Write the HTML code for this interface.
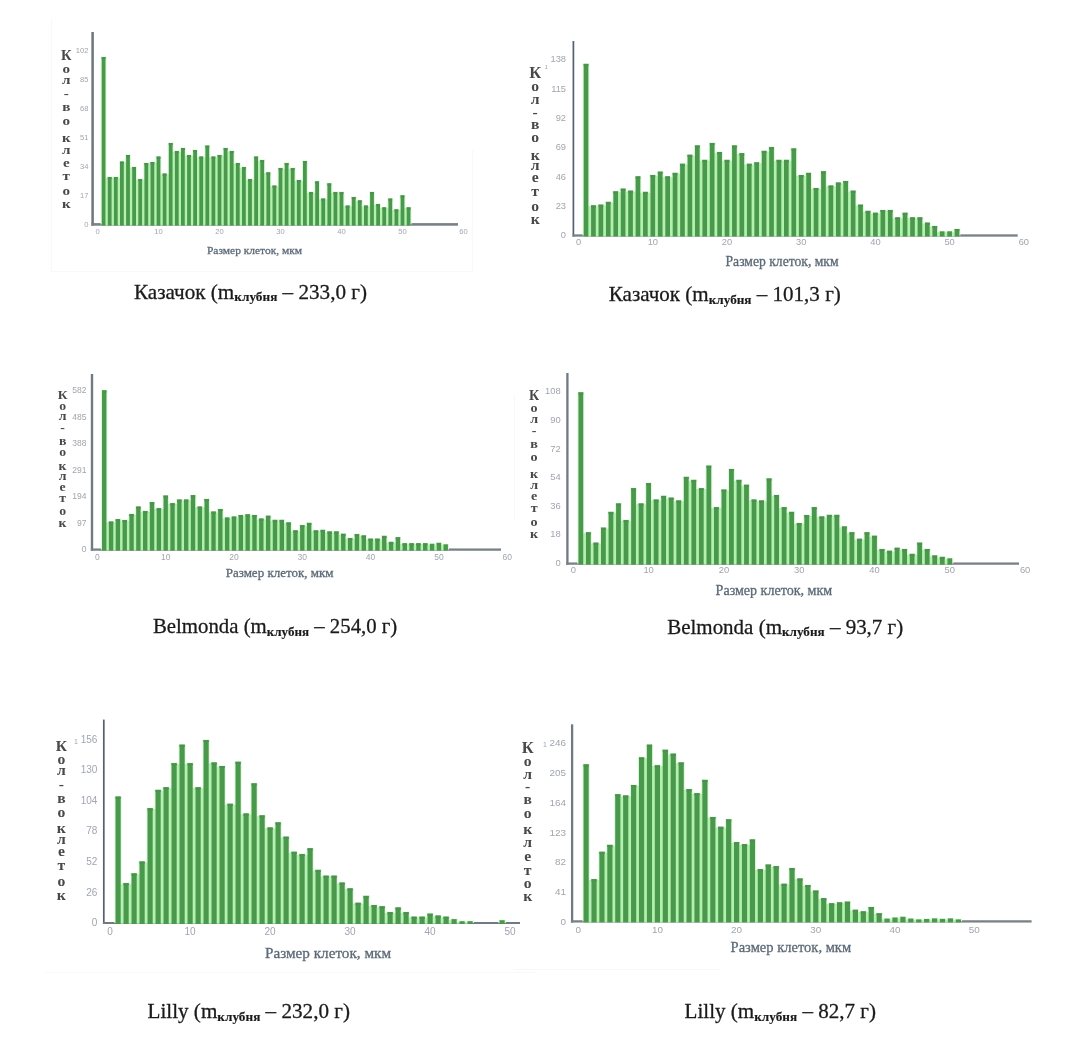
<!DOCTYPE html>
<html lang="ru"><head><meta charset="utf-8"><title>Гистограммы размеров клеток</title>
<style>
html,body{margin:0;padding:0;background:#fff;}
body{width:1078px;height:1050px;overflow:hidden;}
svg{display:block;}
.tk{font-family:"Liberation Sans",sans-serif;fill:#a0a5ae;}
.yl{font-family:"Liberation Serif",serif;font-weight:bold;fill:#484848;text-anchor:middle;}
.xt{font-family:"Liberation Serif",serif;fill:#5d6a77;stroke:#5d6a77;stroke-width:0.3px;}
.cap{font-family:"Liberation Serif",serif;font-size:21.5px;fill:#1a1a1a;stroke:#1a1a1a;stroke-width:0.3px;}
.sub{font-size:13.5px;font-weight:bold;stroke-width:0.15px;}
.g{filter:blur(0.7px);}
.t{filter:blur(0.75px);}
.c{filter:blur(0.5px);}
.yl{filter:blur(0.35px);}
</style></head><body>
<svg width="1078" height="1050" viewBox="0 0 1078 1050">
<rect x="0" y="0" width="1078" height="1050" fill="#ffffff"/>
<g fill="#f8f8f8">
<rect x="51" y="18" width="1" height="254"/><rect x="51" y="271" width="422" height="1"/><rect x="472" y="150" width="1" height="122"/>
<rect x="45" y="972" width="490" height="1"/><rect x="515" y="969" width="205" height="1"/>
<rect x="514" y="395" width="1" height="125"/>
</g>
<g class="g">
<rect x="91.35" y="32.00" width="2.50" height="193.70" fill="#6d777c"/>
<rect x="91.35" y="223.10" width="366.65" height="2.60" fill="#778186"/>
<rect x="100.60" y="56.40" width="6.00" height="168.00" fill="#dcfadb"/>
<rect x="106.70" y="176.40" width="6.00" height="48.00" fill="#dcfadb"/>
<rect x="112.80" y="176.40" width="6.00" height="48.00" fill="#dcfadb"/>
<rect x="118.90" y="161.00" width="6.00" height="63.40" fill="#dcfadb"/>
<rect x="125.00" y="154.40" width="6.00" height="70.00" fill="#dcfadb"/>
<rect x="131.10" y="166.40" width="6.00" height="58.00" fill="#dcfadb"/>
<rect x="137.20" y="178.40" width="6.00" height="46.00" fill="#dcfadb"/>
<rect x="143.30" y="162.40" width="6.00" height="62.00" fill="#dcfadb"/>
<rect x="149.40" y="161.40" width="6.00" height="63.00" fill="#dcfadb"/>
<rect x="155.50" y="156.00" width="6.00" height="68.40" fill="#dcfadb"/>
<rect x="161.60" y="173.00" width="6.00" height="51.40" fill="#dcfadb"/>
<rect x="167.70" y="142.40" width="6.00" height="82.00" fill="#dcfadb"/>
<rect x="173.80" y="150.40" width="6.00" height="74.00" fill="#dcfadb"/>
<rect x="179.90" y="147.40" width="6.00" height="77.00" fill="#dcfadb"/>
<rect x="186.00" y="154.40" width="6.00" height="70.00" fill="#dcfadb"/>
<rect x="192.10" y="149.40" width="6.00" height="75.00" fill="#dcfadb"/>
<rect x="198.20" y="156.00" width="6.00" height="68.40" fill="#dcfadb"/>
<rect x="204.30" y="145.00" width="6.00" height="79.40" fill="#dcfadb"/>
<rect x="210.40" y="156.00" width="6.00" height="68.40" fill="#dcfadb"/>
<rect x="216.50" y="154.40" width="6.00" height="70.00" fill="#dcfadb"/>
<rect x="222.60" y="147.40" width="6.00" height="77.00" fill="#dcfadb"/>
<rect x="228.70" y="150.40" width="6.00" height="74.00" fill="#dcfadb"/>
<rect x="234.80" y="162.40" width="6.00" height="62.00" fill="#dcfadb"/>
<rect x="240.90" y="166.40" width="6.00" height="58.00" fill="#dcfadb"/>
<rect x="247.00" y="178.40" width="6.00" height="46.00" fill="#dcfadb"/>
<rect x="253.10" y="156.00" width="6.00" height="68.40" fill="#dcfadb"/>
<rect x="259.20" y="159.40" width="6.00" height="65.00" fill="#dcfadb"/>
<rect x="265.30" y="171.80" width="6.00" height="52.60" fill="#dcfadb"/>
<rect x="271.40" y="185.00" width="6.00" height="39.40" fill="#dcfadb"/>
<rect x="277.50" y="167.40" width="6.00" height="57.00" fill="#dcfadb"/>
<rect x="283.60" y="162.40" width="6.00" height="62.00" fill="#dcfadb"/>
<rect x="289.70" y="167.40" width="6.00" height="57.00" fill="#dcfadb"/>
<rect x="295.80" y="179.40" width="6.00" height="45.00" fill="#dcfadb"/>
<rect x="301.90" y="160.40" width="6.00" height="64.00" fill="#dcfadb"/>
<rect x="308.00" y="191.40" width="6.00" height="33.00" fill="#dcfadb"/>
<rect x="314.10" y="180.80" width="6.00" height="43.60" fill="#dcfadb"/>
<rect x="320.20" y="198.00" width="6.00" height="26.40" fill="#dcfadb"/>
<rect x="326.30" y="182.80" width="6.00" height="41.60" fill="#dcfadb"/>
<rect x="332.40" y="191.40" width="6.00" height="33.00" fill="#dcfadb"/>
<rect x="338.50" y="191.40" width="6.00" height="33.00" fill="#dcfadb"/>
<rect x="344.60" y="205.00" width="6.00" height="19.40" fill="#dcfadb"/>
<rect x="350.70" y="196.40" width="6.00" height="28.00" fill="#dcfadb"/>
<rect x="356.80" y="199.80" width="6.00" height="24.60" fill="#dcfadb"/>
<rect x="362.90" y="205.00" width="6.00" height="19.40" fill="#dcfadb"/>
<rect x="369.00" y="191.40" width="6.00" height="33.00" fill="#dcfadb"/>
<rect x="375.10" y="203.40" width="6.00" height="21.00" fill="#dcfadb"/>
<rect x="381.20" y="206.80" width="6.00" height="17.60" fill="#dcfadb"/>
<rect x="387.30" y="198.00" width="6.00" height="26.40" fill="#dcfadb"/>
<rect x="393.40" y="208.80" width="6.00" height="15.60" fill="#dcfadb"/>
<rect x="399.50" y="194.80" width="6.00" height="29.60" fill="#dcfadb"/>
<rect x="405.60" y="206.80" width="6.00" height="17.60" fill="#dcfadb"/>
<rect x="105.30" y="177.80" width="2.70" height="47.65" fill="#b2f2af"/>
<rect x="111.40" y="177.80" width="2.70" height="47.65" fill="#b2f2af"/>
<rect x="117.50" y="177.80" width="2.70" height="47.65" fill="#b2f2af"/>
<rect x="123.60" y="162.40" width="2.70" height="63.05" fill="#b2f2af"/>
<rect x="129.70" y="167.80" width="2.70" height="57.65" fill="#b2f2af"/>
<rect x="135.80" y="179.80" width="2.70" height="45.65" fill="#b2f2af"/>
<rect x="141.90" y="179.80" width="2.70" height="45.65" fill="#b2f2af"/>
<rect x="148.00" y="163.80" width="2.70" height="61.65" fill="#b2f2af"/>
<rect x="154.10" y="162.80" width="2.70" height="62.65" fill="#b2f2af"/>
<rect x="160.20" y="174.40" width="2.70" height="51.05" fill="#b2f2af"/>
<rect x="166.30" y="174.40" width="2.70" height="51.05" fill="#b2f2af"/>
<rect x="172.40" y="151.80" width="2.70" height="73.65" fill="#b2f2af"/>
<rect x="178.50" y="151.80" width="2.70" height="73.65" fill="#b2f2af"/>
<rect x="184.60" y="155.80" width="2.70" height="69.65" fill="#b2f2af"/>
<rect x="190.70" y="155.80" width="2.70" height="69.65" fill="#b2f2af"/>
<rect x="196.80" y="157.40" width="2.70" height="68.05" fill="#b2f2af"/>
<rect x="202.90" y="157.40" width="2.70" height="68.05" fill="#b2f2af"/>
<rect x="209.00" y="157.40" width="2.70" height="68.05" fill="#b2f2af"/>
<rect x="215.10" y="157.40" width="2.70" height="68.05" fill="#b2f2af"/>
<rect x="221.20" y="155.80" width="2.70" height="69.65" fill="#b2f2af"/>
<rect x="227.30" y="151.80" width="2.70" height="73.65" fill="#b2f2af"/>
<rect x="233.40" y="163.80" width="2.70" height="61.65" fill="#b2f2af"/>
<rect x="239.50" y="167.80" width="2.70" height="57.65" fill="#b2f2af"/>
<rect x="245.60" y="179.80" width="2.70" height="45.65" fill="#b2f2af"/>
<rect x="251.70" y="179.80" width="2.70" height="45.65" fill="#b2f2af"/>
<rect x="257.80" y="160.80" width="2.70" height="64.65" fill="#b2f2af"/>
<rect x="263.90" y="173.20" width="2.70" height="52.25" fill="#b2f2af"/>
<rect x="270.00" y="186.40" width="2.70" height="39.05" fill="#b2f2af"/>
<rect x="276.10" y="186.40" width="2.70" height="39.05" fill="#b2f2af"/>
<rect x="282.20" y="168.80" width="2.70" height="56.65" fill="#b2f2af"/>
<rect x="288.30" y="168.80" width="2.70" height="56.65" fill="#b2f2af"/>
<rect x="294.40" y="180.80" width="2.70" height="44.65" fill="#b2f2af"/>
<rect x="300.50" y="180.80" width="2.70" height="44.65" fill="#b2f2af"/>
<rect x="306.60" y="192.80" width="2.70" height="32.65" fill="#b2f2af"/>
<rect x="312.70" y="192.80" width="2.70" height="32.65" fill="#b2f2af"/>
<rect x="318.80" y="199.40" width="2.70" height="26.05" fill="#b2f2af"/>
<rect x="324.90" y="199.40" width="2.70" height="26.05" fill="#b2f2af"/>
<rect x="331.00" y="192.80" width="2.70" height="32.65" fill="#b2f2af"/>
<rect x="337.10" y="192.80" width="2.70" height="32.65" fill="#b2f2af"/>
<rect x="343.20" y="206.40" width="2.70" height="19.05" fill="#b2f2af"/>
<rect x="349.30" y="206.40" width="2.70" height="19.05" fill="#b2f2af"/>
<rect x="355.40" y="201.20" width="2.70" height="24.25" fill="#b2f2af"/>
<rect x="361.50" y="206.40" width="2.70" height="19.05" fill="#b2f2af"/>
<rect x="367.60" y="206.40" width="2.70" height="19.05" fill="#b2f2af"/>
<rect x="373.70" y="204.80" width="2.70" height="20.65" fill="#b2f2af"/>
<rect x="379.80" y="208.20" width="2.70" height="17.25" fill="#b2f2af"/>
<rect x="385.90" y="208.20" width="2.70" height="17.25" fill="#b2f2af"/>
<rect x="392.00" y="210.20" width="2.70" height="15.25" fill="#b2f2af"/>
<rect x="398.10" y="210.20" width="2.70" height="15.25" fill="#b2f2af"/>
<rect x="404.20" y="208.20" width="2.70" height="17.25" fill="#b2f2af"/>
<rect x="101.70" y="57.00" width="3.80" height="168.45" fill="#4a984b"/>
<rect x="101.70" y="57.00" width="3.80" height="2.2" fill="#4f8f52"/>
<rect x="107.80" y="177.00" width="3.80" height="48.45" fill="#4a984b"/>
<rect x="107.80" y="177.00" width="3.80" height="2.2" fill="#4f8f52"/>
<rect x="113.90" y="177.00" width="3.80" height="48.45" fill="#4a984b"/>
<rect x="113.90" y="177.00" width="3.80" height="2.2" fill="#4f8f52"/>
<rect x="120.00" y="161.60" width="3.80" height="63.85" fill="#4a984b"/>
<rect x="120.00" y="161.60" width="3.80" height="2.2" fill="#4f8f52"/>
<rect x="126.10" y="155.00" width="3.80" height="70.45" fill="#4a984b"/>
<rect x="126.10" y="155.00" width="3.80" height="2.2" fill="#4f8f52"/>
<rect x="132.20" y="167.00" width="3.80" height="58.45" fill="#4a984b"/>
<rect x="132.20" y="167.00" width="3.80" height="2.2" fill="#4f8f52"/>
<rect x="138.30" y="179.00" width="3.80" height="46.45" fill="#4a984b"/>
<rect x="138.30" y="179.00" width="3.80" height="2.2" fill="#4f8f52"/>
<rect x="144.40" y="163.00" width="3.80" height="62.45" fill="#4a984b"/>
<rect x="144.40" y="163.00" width="3.80" height="2.2" fill="#4f8f52"/>
<rect x="150.50" y="162.00" width="3.80" height="63.45" fill="#4a984b"/>
<rect x="150.50" y="162.00" width="3.80" height="2.2" fill="#4f8f52"/>
<rect x="156.60" y="156.60" width="3.80" height="68.85" fill="#4a984b"/>
<rect x="156.60" y="156.60" width="3.80" height="2.2" fill="#4f8f52"/>
<rect x="162.70" y="173.60" width="3.80" height="51.85" fill="#4a984b"/>
<rect x="162.70" y="173.60" width="3.80" height="2.2" fill="#4f8f52"/>
<rect x="168.80" y="143.00" width="3.80" height="82.45" fill="#4a984b"/>
<rect x="168.80" y="143.00" width="3.80" height="2.2" fill="#4f8f52"/>
<rect x="174.90" y="151.00" width="3.80" height="74.45" fill="#4a984b"/>
<rect x="174.90" y="151.00" width="3.80" height="2.2" fill="#4f8f52"/>
<rect x="181.00" y="148.00" width="3.80" height="77.45" fill="#4a984b"/>
<rect x="181.00" y="148.00" width="3.80" height="2.2" fill="#4f8f52"/>
<rect x="187.10" y="155.00" width="3.80" height="70.45" fill="#4a984b"/>
<rect x="187.10" y="155.00" width="3.80" height="2.2" fill="#4f8f52"/>
<rect x="193.20" y="150.00" width="3.80" height="75.45" fill="#4a984b"/>
<rect x="193.20" y="150.00" width="3.80" height="2.2" fill="#4f8f52"/>
<rect x="199.30" y="156.60" width="3.80" height="68.85" fill="#4a984b"/>
<rect x="199.30" y="156.60" width="3.80" height="2.2" fill="#4f8f52"/>
<rect x="205.40" y="145.60" width="3.80" height="79.85" fill="#4a984b"/>
<rect x="205.40" y="145.60" width="3.80" height="2.2" fill="#4f8f52"/>
<rect x="211.50" y="156.60" width="3.80" height="68.85" fill="#4a984b"/>
<rect x="211.50" y="156.60" width="3.80" height="2.2" fill="#4f8f52"/>
<rect x="217.60" y="155.00" width="3.80" height="70.45" fill="#4a984b"/>
<rect x="217.60" y="155.00" width="3.80" height="2.2" fill="#4f8f52"/>
<rect x="223.70" y="148.00" width="3.80" height="77.45" fill="#4a984b"/>
<rect x="223.70" y="148.00" width="3.80" height="2.2" fill="#4f8f52"/>
<rect x="229.80" y="151.00" width="3.80" height="74.45" fill="#4a984b"/>
<rect x="229.80" y="151.00" width="3.80" height="2.2" fill="#4f8f52"/>
<rect x="235.90" y="163.00" width="3.80" height="62.45" fill="#4a984b"/>
<rect x="235.90" y="163.00" width="3.80" height="2.2" fill="#4f8f52"/>
<rect x="242.00" y="167.00" width="3.80" height="58.45" fill="#4a984b"/>
<rect x="242.00" y="167.00" width="3.80" height="2.2" fill="#4f8f52"/>
<rect x="248.10" y="179.00" width="3.80" height="46.45" fill="#4a984b"/>
<rect x="248.10" y="179.00" width="3.80" height="2.2" fill="#4f8f52"/>
<rect x="254.20" y="156.60" width="3.80" height="68.85" fill="#4a984b"/>
<rect x="254.20" y="156.60" width="3.80" height="2.2" fill="#4f8f52"/>
<rect x="260.30" y="160.00" width="3.80" height="65.45" fill="#4a984b"/>
<rect x="260.30" y="160.00" width="3.80" height="2.2" fill="#4f8f52"/>
<rect x="266.40" y="172.40" width="3.80" height="53.05" fill="#4a984b"/>
<rect x="266.40" y="172.40" width="3.80" height="2.2" fill="#4f8f52"/>
<rect x="272.50" y="185.60" width="3.80" height="39.85" fill="#4a984b"/>
<rect x="272.50" y="185.60" width="3.80" height="2.2" fill="#4f8f52"/>
<rect x="278.60" y="168.00" width="3.80" height="57.45" fill="#4a984b"/>
<rect x="278.60" y="168.00" width="3.80" height="2.2" fill="#4f8f52"/>
<rect x="284.70" y="163.00" width="3.80" height="62.45" fill="#4a984b"/>
<rect x="284.70" y="163.00" width="3.80" height="2.2" fill="#4f8f52"/>
<rect x="290.80" y="168.00" width="3.80" height="57.45" fill="#4a984b"/>
<rect x="290.80" y="168.00" width="3.80" height="2.2" fill="#4f8f52"/>
<rect x="296.90" y="180.00" width="3.80" height="45.45" fill="#4a984b"/>
<rect x="296.90" y="180.00" width="3.80" height="2.2" fill="#4f8f52"/>
<rect x="303.00" y="161.00" width="3.80" height="64.45" fill="#4a984b"/>
<rect x="303.00" y="161.00" width="3.80" height="2.2" fill="#4f8f52"/>
<rect x="309.10" y="192.00" width="3.80" height="33.45" fill="#4a984b"/>
<rect x="309.10" y="192.00" width="3.80" height="2.2" fill="#4f8f52"/>
<rect x="315.20" y="181.40" width="3.80" height="44.05" fill="#4a984b"/>
<rect x="315.20" y="181.40" width="3.80" height="2.2" fill="#4f8f52"/>
<rect x="321.30" y="198.60" width="3.80" height="26.85" fill="#4a984b"/>
<rect x="321.30" y="198.60" width="3.80" height="2.2" fill="#4f8f52"/>
<rect x="327.40" y="183.40" width="3.80" height="42.05" fill="#4a984b"/>
<rect x="327.40" y="183.40" width="3.80" height="2.2" fill="#4f8f52"/>
<rect x="333.50" y="192.00" width="3.80" height="33.45" fill="#4a984b"/>
<rect x="333.50" y="192.00" width="3.80" height="2.2" fill="#4f8f52"/>
<rect x="339.60" y="192.00" width="3.80" height="33.45" fill="#4a984b"/>
<rect x="339.60" y="192.00" width="3.80" height="2.2" fill="#4f8f52"/>
<rect x="345.70" y="205.60" width="3.80" height="19.85" fill="#4a984b"/>
<rect x="345.70" y="205.60" width="3.80" height="2.2" fill="#4f8f52"/>
<rect x="351.80" y="197.00" width="3.80" height="28.45" fill="#4a984b"/>
<rect x="351.80" y="197.00" width="3.80" height="2.2" fill="#4f8f52"/>
<rect x="357.90" y="200.40" width="3.80" height="25.05" fill="#4a984b"/>
<rect x="357.90" y="200.40" width="3.80" height="2.2" fill="#4f8f52"/>
<rect x="364.00" y="205.60" width="3.80" height="19.85" fill="#4a984b"/>
<rect x="364.00" y="205.60" width="3.80" height="2.2" fill="#4f8f52"/>
<rect x="370.10" y="192.00" width="3.80" height="33.45" fill="#4a984b"/>
<rect x="370.10" y="192.00" width="3.80" height="2.2" fill="#4f8f52"/>
<rect x="376.20" y="204.00" width="3.80" height="21.45" fill="#4a984b"/>
<rect x="376.20" y="204.00" width="3.80" height="2.2" fill="#4f8f52"/>
<rect x="382.30" y="207.40" width="3.80" height="18.05" fill="#4a984b"/>
<rect x="382.30" y="207.40" width="3.80" height="2.2" fill="#4f8f52"/>
<rect x="388.40" y="198.60" width="3.80" height="26.85" fill="#4a984b"/>
<rect x="388.40" y="198.60" width="3.80" height="2.2" fill="#4f8f52"/>
<rect x="394.50" y="209.40" width="3.80" height="16.05" fill="#4a984b"/>
<rect x="394.50" y="209.40" width="3.80" height="2.2" fill="#4f8f52"/>
<rect x="400.60" y="195.40" width="3.80" height="30.05" fill="#4a984b"/>
<rect x="400.60" y="195.40" width="3.80" height="2.2" fill="#4f8f52"/>
<rect x="406.70" y="207.40" width="3.80" height="18.05" fill="#4a984b"/>
<rect x="406.70" y="207.40" width="3.80" height="2.2" fill="#4f8f52"/>
</g>
<g class="t">
<text class="tk" font-size="7.6" x="88.5" y="53.2" text-anchor="end">102</text>
<text class="tk" font-size="7.6" x="88.5" y="82.2" text-anchor="end">85</text>
<text class="tk" font-size="7.6" x="88.5" y="111.2" text-anchor="end">68</text>
<text class="tk" font-size="7.6" x="88.5" y="140.2" text-anchor="end">51</text>
<text class="tk" font-size="7.6" x="88.5" y="169.2" text-anchor="end">34</text>
<text class="tk" font-size="7.6" x="88.5" y="198.2" text-anchor="end">17</text>
<text class="tk" font-size="7.6" x="88.5" y="227.2" text-anchor="end">0</text>
<text class="tk" font-size="7.6" x="97.5" y="233.7" text-anchor="middle">0</text>
<text class="tk" font-size="7.6" x="158.5" y="233.7" text-anchor="middle">10</text>
<text class="tk" font-size="7.6" x="219.5" y="233.7" text-anchor="middle">20</text>
<text class="tk" font-size="7.6" x="280.5" y="233.7" text-anchor="middle">30</text>
<text class="tk" font-size="7.6" x="341.5" y="233.7" text-anchor="middle">40</text>
<text class="tk" font-size="7.6" x="402.5" y="233.7" text-anchor="middle">50</text>
<text class="tk" font-size="7.6" x="463.5" y="233.7" text-anchor="middle">60</text>
<text class="yl" font-size="14.5" x="66.30" y="59.5" transform="scale(1.0 1)">К</text>
<text class="yl" font-size="13.5" x="59.20" y="72.8" transform="scale(1.12 1)">о</text>
<text class="yl" font-size="13.5" x="59.20" y="83.9" transform="scale(1.12 1)">л</text>
<text class="yl" font-size="13.5" x="59.20" y="98.1" transform="scale(1.12 1)">-</text>
<text class="yl" font-size="13.5" x="59.20" y="111.1" transform="scale(1.12 1)">в</text>
<text class="yl" font-size="13.5" x="59.20" y="124.8" transform="scale(1.12 1)">о</text>
<text class="yl" font-size="13.5" x="59.20" y="141.8" transform="scale(1.12 1)">к</text>
<text class="yl" font-size="13.5" x="59.20" y="154.3" transform="scale(1.12 1)">л</text>
<text class="yl" font-size="13.5" x="59.20" y="166.8" transform="scale(1.12 1)">е</text>
<text class="yl" font-size="13.5" x="59.20" y="180.1" transform="scale(1.12 1)">т</text>
<text class="yl" font-size="13.5" x="59.20" y="195.1" transform="scale(1.12 1)">о</text>
<text class="yl" font-size="13.5" x="59.20" y="208.4" transform="scale(1.12 1)">к</text>
<text class="xt" font-size="11.4" x="207.0" y="253.9" textLength="95.0" lengthAdjust="spacingAndGlyphs">Размер клеток, мкм</text>
</g>
<text class="cap c" x="134.0" y="298.5" textLength="233.0" lengthAdjust="spacingAndGlyphs">Казачок (m<tspan class="sub" dy="2.5">клубня</tspan><tspan dy="-2.5"> – 233,0 г)</tspan></text>
<g class="g">
<rect x="572.55" y="41.00" width="1.70" height="195.65" fill="#566070"/>
<rect x="572.55" y="234.35" width="445.15" height="2.30" fill="#778186"/>
<rect x="582.57" y="63.30" width="6.90" height="172.20" fill="#dcfadb"/>
<rect x="589.99" y="204.80" width="6.90" height="30.70" fill="#dcfadb"/>
<rect x="597.41" y="204.10" width="6.90" height="31.40" fill="#dcfadb"/>
<rect x="604.83" y="201.30" width="6.90" height="34.20" fill="#dcfadb"/>
<rect x="612.25" y="190.80" width="6.90" height="44.70" fill="#dcfadb"/>
<rect x="619.67" y="188.10" width="6.90" height="47.40" fill="#dcfadb"/>
<rect x="627.09" y="190.10" width="6.90" height="45.40" fill="#dcfadb"/>
<rect x="634.51" y="175.80" width="6.90" height="59.70" fill="#dcfadb"/>
<rect x="641.93" y="191.30" width="6.90" height="44.20" fill="#dcfadb"/>
<rect x="649.35" y="174.40" width="6.90" height="61.10" fill="#dcfadb"/>
<rect x="656.77" y="171.10" width="6.90" height="64.40" fill="#dcfadb"/>
<rect x="664.19" y="175.80" width="6.90" height="59.70" fill="#dcfadb"/>
<rect x="671.61" y="172.30" width="6.90" height="63.20" fill="#dcfadb"/>
<rect x="679.03" y="163.20" width="6.90" height="72.30" fill="#dcfadb"/>
<rect x="686.45" y="154.20" width="6.90" height="81.30" fill="#dcfadb"/>
<rect x="693.87" y="144.90" width="6.90" height="90.60" fill="#dcfadb"/>
<rect x="701.29" y="159.30" width="6.90" height="76.20" fill="#dcfadb"/>
<rect x="708.71" y="142.40" width="6.90" height="93.10" fill="#dcfadb"/>
<rect x="716.13" y="151.40" width="6.90" height="84.10" fill="#dcfadb"/>
<rect x="723.55" y="159.30" width="6.90" height="76.20" fill="#dcfadb"/>
<rect x="730.97" y="144.90" width="6.90" height="90.60" fill="#dcfadb"/>
<rect x="738.39" y="152.60" width="6.90" height="82.90" fill="#dcfadb"/>
<rect x="745.81" y="163.20" width="6.90" height="72.30" fill="#dcfadb"/>
<rect x="753.23" y="161.80" width="6.90" height="73.70" fill="#dcfadb"/>
<rect x="760.65" y="150.30" width="6.90" height="85.20" fill="#dcfadb"/>
<rect x="768.07" y="146.50" width="6.90" height="89.00" fill="#dcfadb"/>
<rect x="775.49" y="159.30" width="6.90" height="76.20" fill="#dcfadb"/>
<rect x="782.91" y="159.30" width="6.90" height="76.20" fill="#dcfadb"/>
<rect x="790.33" y="147.90" width="6.90" height="87.60" fill="#dcfadb"/>
<rect x="797.75" y="174.40" width="6.90" height="61.10" fill="#dcfadb"/>
<rect x="805.17" y="172.30" width="6.90" height="63.20" fill="#dcfadb"/>
<rect x="812.59" y="187.40" width="6.90" height="48.10" fill="#dcfadb"/>
<rect x="820.01" y="170.70" width="6.90" height="64.80" fill="#dcfadb"/>
<rect x="827.43" y="185.00" width="6.90" height="50.50" fill="#dcfadb"/>
<rect x="834.85" y="182.00" width="6.90" height="53.50" fill="#dcfadb"/>
<rect x="842.27" y="180.40" width="6.90" height="55.10" fill="#dcfadb"/>
<rect x="849.69" y="190.10" width="6.90" height="45.40" fill="#dcfadb"/>
<rect x="857.11" y="204.10" width="6.90" height="31.40" fill="#dcfadb"/>
<rect x="864.53" y="210.30" width="6.90" height="25.20" fill="#dcfadb"/>
<rect x="871.95" y="212.20" width="6.90" height="23.30" fill="#dcfadb"/>
<rect x="879.37" y="209.40" width="6.90" height="26.10" fill="#dcfadb"/>
<rect x="886.79" y="209.40" width="6.90" height="26.10" fill="#dcfadb"/>
<rect x="894.21" y="216.80" width="6.90" height="18.70" fill="#dcfadb"/>
<rect x="901.63" y="212.20" width="6.90" height="23.30" fill="#dcfadb"/>
<rect x="909.05" y="216.80" width="6.90" height="18.70" fill="#dcfadb"/>
<rect x="916.47" y="216.80" width="6.90" height="18.70" fill="#dcfadb"/>
<rect x="923.89" y="222.10" width="6.90" height="13.40" fill="#dcfadb"/>
<rect x="931.31" y="225.40" width="6.90" height="10.10" fill="#dcfadb"/>
<rect x="938.73" y="230.70" width="6.90" height="4.80" fill="#dcfadb"/>
<rect x="946.15" y="230.70" width="6.90" height="4.80" fill="#dcfadb"/>
<rect x="953.57" y="228.40" width="6.90" height="7.10" fill="#dcfadb"/>
<rect x="588.17" y="206.20" width="3.12" height="30.20" fill="#b2f2af"/>
<rect x="595.59" y="206.20" width="3.12" height="30.20" fill="#b2f2af"/>
<rect x="603.01" y="205.50" width="3.12" height="30.90" fill="#b2f2af"/>
<rect x="610.43" y="202.70" width="3.12" height="33.70" fill="#b2f2af"/>
<rect x="617.85" y="192.20" width="3.12" height="44.20" fill="#b2f2af"/>
<rect x="625.27" y="191.50" width="3.12" height="44.90" fill="#b2f2af"/>
<rect x="632.69" y="191.50" width="3.12" height="44.90" fill="#b2f2af"/>
<rect x="640.11" y="192.70" width="3.12" height="43.70" fill="#b2f2af"/>
<rect x="647.53" y="192.70" width="3.12" height="43.70" fill="#b2f2af"/>
<rect x="654.95" y="175.80" width="3.12" height="60.60" fill="#b2f2af"/>
<rect x="662.37" y="177.20" width="3.12" height="59.20" fill="#b2f2af"/>
<rect x="669.79" y="177.20" width="3.12" height="59.20" fill="#b2f2af"/>
<rect x="677.21" y="173.70" width="3.12" height="62.70" fill="#b2f2af"/>
<rect x="684.63" y="164.60" width="3.12" height="71.80" fill="#b2f2af"/>
<rect x="692.05" y="155.60" width="3.12" height="80.80" fill="#b2f2af"/>
<rect x="699.47" y="160.70" width="3.12" height="75.70" fill="#b2f2af"/>
<rect x="706.89" y="160.70" width="3.12" height="75.70" fill="#b2f2af"/>
<rect x="714.31" y="152.80" width="3.12" height="83.60" fill="#b2f2af"/>
<rect x="721.73" y="160.70" width="3.12" height="75.70" fill="#b2f2af"/>
<rect x="729.15" y="160.70" width="3.12" height="75.70" fill="#b2f2af"/>
<rect x="736.57" y="154.00" width="3.12" height="82.40" fill="#b2f2af"/>
<rect x="743.99" y="164.60" width="3.12" height="71.80" fill="#b2f2af"/>
<rect x="751.41" y="164.60" width="3.12" height="71.80" fill="#b2f2af"/>
<rect x="758.83" y="163.20" width="3.12" height="73.20" fill="#b2f2af"/>
<rect x="766.25" y="151.70" width="3.12" height="84.70" fill="#b2f2af"/>
<rect x="773.67" y="160.70" width="3.12" height="75.70" fill="#b2f2af"/>
<rect x="781.09" y="160.70" width="3.12" height="75.70" fill="#b2f2af"/>
<rect x="788.51" y="160.70" width="3.12" height="75.70" fill="#b2f2af"/>
<rect x="795.93" y="175.80" width="3.12" height="60.60" fill="#b2f2af"/>
<rect x="803.35" y="175.80" width="3.12" height="60.60" fill="#b2f2af"/>
<rect x="810.77" y="188.80" width="3.12" height="47.60" fill="#b2f2af"/>
<rect x="818.19" y="188.80" width="3.12" height="47.60" fill="#b2f2af"/>
<rect x="825.61" y="186.40" width="3.12" height="50.00" fill="#b2f2af"/>
<rect x="833.03" y="186.40" width="3.12" height="50.00" fill="#b2f2af"/>
<rect x="840.45" y="183.40" width="3.12" height="53.00" fill="#b2f2af"/>
<rect x="847.87" y="191.50" width="3.12" height="44.90" fill="#b2f2af"/>
<rect x="855.29" y="205.50" width="3.12" height="30.90" fill="#b2f2af"/>
<rect x="862.71" y="211.70" width="3.12" height="24.70" fill="#b2f2af"/>
<rect x="870.13" y="213.60" width="3.12" height="22.80" fill="#b2f2af"/>
<rect x="877.55" y="213.60" width="3.12" height="22.80" fill="#b2f2af"/>
<rect x="884.97" y="210.80" width="3.12" height="25.60" fill="#b2f2af"/>
<rect x="892.39" y="218.20" width="3.12" height="18.20" fill="#b2f2af"/>
<rect x="899.81" y="218.20" width="3.12" height="18.20" fill="#b2f2af"/>
<rect x="907.23" y="218.20" width="3.12" height="18.20" fill="#b2f2af"/>
<rect x="914.65" y="218.20" width="3.12" height="18.20" fill="#b2f2af"/>
<rect x="922.07" y="223.50" width="3.12" height="12.90" fill="#b2f2af"/>
<rect x="929.49" y="226.80" width="3.12" height="9.60" fill="#b2f2af"/>
<rect x="936.91" y="232.10" width="3.12" height="4.30" fill="#b2f2af"/>
<rect x="944.33" y="232.10" width="3.12" height="4.30" fill="#b2f2af"/>
<rect x="951.75" y="232.10" width="3.12" height="4.30" fill="#b2f2af"/>
<rect x="583.67" y="63.90" width="4.70" height="172.50" fill="#4a984b"/>
<rect x="583.67" y="63.90" width="4.70" height="2.2" fill="#4f8f52"/>
<rect x="591.09" y="205.40" width="4.70" height="31.00" fill="#4a984b"/>
<rect x="591.09" y="205.40" width="4.70" height="2.2" fill="#4f8f52"/>
<rect x="598.51" y="204.70" width="4.70" height="31.70" fill="#4a984b"/>
<rect x="598.51" y="204.70" width="4.70" height="2.2" fill="#4f8f52"/>
<rect x="605.93" y="201.90" width="4.70" height="34.50" fill="#4a984b"/>
<rect x="605.93" y="201.90" width="4.70" height="2.2" fill="#4f8f52"/>
<rect x="613.35" y="191.40" width="4.70" height="45.00" fill="#4a984b"/>
<rect x="613.35" y="191.40" width="4.70" height="2.2" fill="#4f8f52"/>
<rect x="620.77" y="188.70" width="4.70" height="47.70" fill="#4a984b"/>
<rect x="620.77" y="188.70" width="4.70" height="2.2" fill="#4f8f52"/>
<rect x="628.19" y="190.70" width="4.70" height="45.70" fill="#4a984b"/>
<rect x="628.19" y="190.70" width="4.70" height="2.2" fill="#4f8f52"/>
<rect x="635.61" y="176.40" width="4.70" height="60.00" fill="#4a984b"/>
<rect x="635.61" y="176.40" width="4.70" height="2.2" fill="#4f8f52"/>
<rect x="643.03" y="191.90" width="4.70" height="44.50" fill="#4a984b"/>
<rect x="643.03" y="191.90" width="4.70" height="2.2" fill="#4f8f52"/>
<rect x="650.45" y="175.00" width="4.70" height="61.40" fill="#4a984b"/>
<rect x="650.45" y="175.00" width="4.70" height="2.2" fill="#4f8f52"/>
<rect x="657.87" y="171.70" width="4.70" height="64.70" fill="#4a984b"/>
<rect x="657.87" y="171.70" width="4.70" height="2.2" fill="#4f8f52"/>
<rect x="665.29" y="176.40" width="4.70" height="60.00" fill="#4a984b"/>
<rect x="665.29" y="176.40" width="4.70" height="2.2" fill="#4f8f52"/>
<rect x="672.71" y="172.90" width="4.70" height="63.50" fill="#4a984b"/>
<rect x="672.71" y="172.90" width="4.70" height="2.2" fill="#4f8f52"/>
<rect x="680.13" y="163.80" width="4.70" height="72.60" fill="#4a984b"/>
<rect x="680.13" y="163.80" width="4.70" height="2.2" fill="#4f8f52"/>
<rect x="687.55" y="154.80" width="4.70" height="81.60" fill="#4a984b"/>
<rect x="687.55" y="154.80" width="4.70" height="2.2" fill="#4f8f52"/>
<rect x="694.97" y="145.50" width="4.70" height="90.90" fill="#4a984b"/>
<rect x="694.97" y="145.50" width="4.70" height="2.2" fill="#4f8f52"/>
<rect x="702.39" y="159.90" width="4.70" height="76.50" fill="#4a984b"/>
<rect x="702.39" y="159.90" width="4.70" height="2.2" fill="#4f8f52"/>
<rect x="709.81" y="143.00" width="4.70" height="93.40" fill="#4a984b"/>
<rect x="709.81" y="143.00" width="4.70" height="2.2" fill="#4f8f52"/>
<rect x="717.23" y="152.00" width="4.70" height="84.40" fill="#4a984b"/>
<rect x="717.23" y="152.00" width="4.70" height="2.2" fill="#4f8f52"/>
<rect x="724.65" y="159.90" width="4.70" height="76.50" fill="#4a984b"/>
<rect x="724.65" y="159.90" width="4.70" height="2.2" fill="#4f8f52"/>
<rect x="732.07" y="145.50" width="4.70" height="90.90" fill="#4a984b"/>
<rect x="732.07" y="145.50" width="4.70" height="2.2" fill="#4f8f52"/>
<rect x="739.49" y="153.20" width="4.70" height="83.20" fill="#4a984b"/>
<rect x="739.49" y="153.20" width="4.70" height="2.2" fill="#4f8f52"/>
<rect x="746.91" y="163.80" width="4.70" height="72.60" fill="#4a984b"/>
<rect x="746.91" y="163.80" width="4.70" height="2.2" fill="#4f8f52"/>
<rect x="754.33" y="162.40" width="4.70" height="74.00" fill="#4a984b"/>
<rect x="754.33" y="162.40" width="4.70" height="2.2" fill="#4f8f52"/>
<rect x="761.75" y="150.90" width="4.70" height="85.50" fill="#4a984b"/>
<rect x="761.75" y="150.90" width="4.70" height="2.2" fill="#4f8f52"/>
<rect x="769.17" y="147.10" width="4.70" height="89.30" fill="#4a984b"/>
<rect x="769.17" y="147.10" width="4.70" height="2.2" fill="#4f8f52"/>
<rect x="776.59" y="159.90" width="4.70" height="76.50" fill="#4a984b"/>
<rect x="776.59" y="159.90" width="4.70" height="2.2" fill="#4f8f52"/>
<rect x="784.01" y="159.90" width="4.70" height="76.50" fill="#4a984b"/>
<rect x="784.01" y="159.90" width="4.70" height="2.2" fill="#4f8f52"/>
<rect x="791.43" y="148.50" width="4.70" height="87.90" fill="#4a984b"/>
<rect x="791.43" y="148.50" width="4.70" height="2.2" fill="#4f8f52"/>
<rect x="798.85" y="175.00" width="4.70" height="61.40" fill="#4a984b"/>
<rect x="798.85" y="175.00" width="4.70" height="2.2" fill="#4f8f52"/>
<rect x="806.27" y="172.90" width="4.70" height="63.50" fill="#4a984b"/>
<rect x="806.27" y="172.90" width="4.70" height="2.2" fill="#4f8f52"/>
<rect x="813.69" y="188.00" width="4.70" height="48.40" fill="#4a984b"/>
<rect x="813.69" y="188.00" width="4.70" height="2.2" fill="#4f8f52"/>
<rect x="821.11" y="171.30" width="4.70" height="65.10" fill="#4a984b"/>
<rect x="821.11" y="171.30" width="4.70" height="2.2" fill="#4f8f52"/>
<rect x="828.53" y="185.60" width="4.70" height="50.80" fill="#4a984b"/>
<rect x="828.53" y="185.60" width="4.70" height="2.2" fill="#4f8f52"/>
<rect x="835.95" y="182.60" width="4.70" height="53.80" fill="#4a984b"/>
<rect x="835.95" y="182.60" width="4.70" height="2.2" fill="#4f8f52"/>
<rect x="843.37" y="181.00" width="4.70" height="55.40" fill="#4a984b"/>
<rect x="843.37" y="181.00" width="4.70" height="2.2" fill="#4f8f52"/>
<rect x="850.79" y="190.70" width="4.70" height="45.70" fill="#4a984b"/>
<rect x="850.79" y="190.70" width="4.70" height="2.2" fill="#4f8f52"/>
<rect x="858.21" y="204.70" width="4.70" height="31.70" fill="#4a984b"/>
<rect x="858.21" y="204.70" width="4.70" height="2.2" fill="#4f8f52"/>
<rect x="865.63" y="210.90" width="4.70" height="25.50" fill="#4a984b"/>
<rect x="865.63" y="210.90" width="4.70" height="2.2" fill="#4f8f52"/>
<rect x="873.05" y="212.80" width="4.70" height="23.60" fill="#4a984b"/>
<rect x="873.05" y="212.80" width="4.70" height="2.2" fill="#4f8f52"/>
<rect x="880.47" y="210.00" width="4.70" height="26.40" fill="#4a984b"/>
<rect x="880.47" y="210.00" width="4.70" height="2.2" fill="#4f8f52"/>
<rect x="887.89" y="210.00" width="4.70" height="26.40" fill="#4a984b"/>
<rect x="887.89" y="210.00" width="4.70" height="2.2" fill="#4f8f52"/>
<rect x="895.31" y="217.40" width="4.70" height="19.00" fill="#4a984b"/>
<rect x="895.31" y="217.40" width="4.70" height="2.2" fill="#4f8f52"/>
<rect x="902.73" y="212.80" width="4.70" height="23.60" fill="#4a984b"/>
<rect x="902.73" y="212.80" width="4.70" height="2.2" fill="#4f8f52"/>
<rect x="910.15" y="217.40" width="4.70" height="19.00" fill="#4a984b"/>
<rect x="910.15" y="217.40" width="4.70" height="2.2" fill="#4f8f52"/>
<rect x="917.57" y="217.40" width="4.70" height="19.00" fill="#4a984b"/>
<rect x="917.57" y="217.40" width="4.70" height="2.2" fill="#4f8f52"/>
<rect x="924.99" y="222.70" width="4.70" height="13.70" fill="#4a984b"/>
<rect x="924.99" y="222.70" width="4.70" height="2.2" fill="#4f8f52"/>
<rect x="932.41" y="226.00" width="4.70" height="10.40" fill="#4a984b"/>
<rect x="932.41" y="226.00" width="4.70" height="2.2" fill="#4f8f52"/>
<rect x="939.83" y="231.30" width="4.70" height="5.10" fill="#4a984b"/>
<rect x="947.25" y="231.30" width="4.70" height="5.10" fill="#4a984b"/>
<rect x="954.67" y="229.00" width="4.70" height="7.40" fill="#4a984b"/>
<rect x="954.67" y="229.00" width="4.70" height="2.2" fill="#4f8f52"/>
</g>
<g class="t">
<text class="tk" font-size="9.3" x="566.0" y="62.2" text-anchor="end">138</text>
<text class="tk" font-size="9.3" x="566.0" y="91.6" text-anchor="end">115</text>
<text class="tk" font-size="9.3" x="566.0" y="120.9" text-anchor="end">92</text>
<text class="tk" font-size="9.3" x="566.0" y="150.3" text-anchor="end">69</text>
<text class="tk" font-size="9.3" x="566.0" y="179.6" text-anchor="end">46</text>
<text class="tk" font-size="9.3" x="566.0" y="209.0" text-anchor="end">23</text>
<text class="tk" font-size="9.3" x="566.0" y="238.3" text-anchor="end">0</text>
<text class="tk" font-size="9.3" x="578.6" y="245.0" text-anchor="middle">0</text>
<text class="tk" font-size="9.3" x="652.8" y="245.0" text-anchor="middle">10</text>
<text class="tk" font-size="9.3" x="727.0" y="245.0" text-anchor="middle">20</text>
<text class="tk" font-size="9.3" x="801.2" y="245.0" text-anchor="middle">30</text>
<text class="tk" font-size="9.3" x="875.4" y="245.0" text-anchor="middle">40</text>
<text class="tk" font-size="9.3" x="949.6" y="245.0" text-anchor="middle">50</text>
<text class="tk" font-size="9.3" x="1023.8" y="245.0" text-anchor="middle">60</text>
<text class="yl" font-size="16.5" x="535.20" y="77.5" transform="scale(1.0 1)">К</text>
<text class="yl" font-size="14.0" x="477.86" y="91.5" transform="scale(1.12 1)">о</text>
<text class="yl" font-size="14.0" x="477.86" y="104.5" transform="scale(1.12 1)">л</text>
<text class="yl" font-size="14.0" x="477.86" y="117.4" transform="scale(1.12 1)">-</text>
<text class="yl" font-size="14.0" x="477.86" y="128.7" transform="scale(1.12 1)">в</text>
<text class="yl" font-size="14.0" x="477.86" y="142.5" transform="scale(1.12 1)">о</text>
<text class="yl" font-size="14.0" x="477.86" y="160.3" transform="scale(1.12 1)">к</text>
<text class="yl" font-size="14.0" x="477.86" y="170.0" transform="scale(1.12 1)">л</text>
<text class="yl" font-size="14.0" x="477.86" y="182.1" transform="scale(1.12 1)">е</text>
<text class="yl" font-size="14.0" x="477.86" y="195.9" transform="scale(1.12 1)">т</text>
<text class="yl" font-size="14.0" x="477.86" y="211.2" transform="scale(1.12 1)">о</text>
<text class="yl" font-size="14.0" x="477.86" y="224.2" transform="scale(1.12 1)">к</text>
<text class="xt" font-size="13.9" x="725.5" y="265.9" textLength="113.1" lengthAdjust="spacingAndGlyphs">Размер клеток, мкм</text>
</g>
<text class="cap c" x="608.8" y="301.2" textLength="232.0" lengthAdjust="spacingAndGlyphs">Казачок (m<tspan class="sub" dy="2.5">клубня</tspan><tspan dy="-2.5"> – 101,3 г)</tspan></text>
<g class="g">
<rect x="90.80" y="374.00" width="2.40" height="176.75" fill="#6f7a84"/>
<rect x="90.80" y="548.45" width="410.20" height="2.30" fill="#778186"/>
<rect x="100.93" y="389.80" width="6.60" height="159.80" fill="#dcfadb"/>
<rect x="107.76" y="521.00" width="6.60" height="28.60" fill="#dcfadb"/>
<rect x="114.59" y="518.60" width="6.60" height="31.00" fill="#dcfadb"/>
<rect x="121.42" y="519.40" width="6.60" height="30.20" fill="#dcfadb"/>
<rect x="128.25" y="513.40" width="6.60" height="36.20" fill="#dcfadb"/>
<rect x="135.08" y="506.00" width="6.60" height="43.60" fill="#dcfadb"/>
<rect x="141.91" y="510.40" width="6.60" height="39.20" fill="#dcfadb"/>
<rect x="148.74" y="501.60" width="6.60" height="48.00" fill="#dcfadb"/>
<rect x="155.57" y="507.60" width="6.60" height="42.00" fill="#dcfadb"/>
<rect x="162.40" y="495.00" width="6.60" height="54.60" fill="#dcfadb"/>
<rect x="169.23" y="502.60" width="6.60" height="47.00" fill="#dcfadb"/>
<rect x="176.06" y="499.00" width="6.60" height="50.60" fill="#dcfadb"/>
<rect x="182.89" y="499.00" width="6.60" height="50.60" fill="#dcfadb"/>
<rect x="189.72" y="494.60" width="6.60" height="55.00" fill="#dcfadb"/>
<rect x="196.55" y="506.00" width="6.60" height="43.60" fill="#dcfadb"/>
<rect x="203.38" y="498.40" width="6.60" height="51.20" fill="#dcfadb"/>
<rect x="210.21" y="511.00" width="6.60" height="38.60" fill="#dcfadb"/>
<rect x="217.04" y="508.40" width="6.60" height="41.20" fill="#dcfadb"/>
<rect x="223.87" y="517.00" width="6.60" height="32.60" fill="#dcfadb"/>
<rect x="230.70" y="516.00" width="6.60" height="33.60" fill="#dcfadb"/>
<rect x="237.53" y="514.40" width="6.60" height="35.20" fill="#dcfadb"/>
<rect x="244.36" y="513.80" width="6.60" height="35.80" fill="#dcfadb"/>
<rect x="251.19" y="514.40" width="6.60" height="35.20" fill="#dcfadb"/>
<rect x="258.02" y="518.00" width="6.60" height="31.60" fill="#dcfadb"/>
<rect x="264.85" y="515.20" width="6.60" height="34.40" fill="#dcfadb"/>
<rect x="271.68" y="519.30" width="6.60" height="30.30" fill="#dcfadb"/>
<rect x="278.51" y="519.30" width="6.60" height="30.30" fill="#dcfadb"/>
<rect x="285.34" y="521.90" width="6.60" height="27.70" fill="#dcfadb"/>
<rect x="292.17" y="529.80" width="6.60" height="19.80" fill="#dcfadb"/>
<rect x="299.00" y="524.60" width="6.60" height="25.00" fill="#dcfadb"/>
<rect x="305.83" y="522.30" width="6.60" height="27.30" fill="#dcfadb"/>
<rect x="312.66" y="529.80" width="6.60" height="19.80" fill="#dcfadb"/>
<rect x="319.49" y="529.30" width="6.60" height="20.30" fill="#dcfadb"/>
<rect x="326.32" y="530.90" width="6.60" height="18.70" fill="#dcfadb"/>
<rect x="333.15" y="530.90" width="6.60" height="18.70" fill="#dcfadb"/>
<rect x="339.98" y="533.20" width="6.60" height="16.40" fill="#dcfadb"/>
<rect x="346.81" y="537.40" width="6.60" height="12.20" fill="#dcfadb"/>
<rect x="353.64" y="533.50" width="6.60" height="16.10" fill="#dcfadb"/>
<rect x="360.47" y="534.90" width="6.60" height="14.70" fill="#dcfadb"/>
<rect x="367.30" y="538.10" width="6.60" height="11.50" fill="#dcfadb"/>
<rect x="374.13" y="538.10" width="6.60" height="11.50" fill="#dcfadb"/>
<rect x="380.96" y="535.30" width="6.60" height="14.30" fill="#dcfadb"/>
<rect x="387.79" y="541.30" width="6.60" height="8.30" fill="#dcfadb"/>
<rect x="394.62" y="536.70" width="6.60" height="12.90" fill="#dcfadb"/>
<rect x="401.45" y="542.70" width="6.60" height="6.90" fill="#dcfadb"/>
<rect x="408.28" y="542.70" width="6.60" height="6.90" fill="#dcfadb"/>
<rect x="415.11" y="542.70" width="6.60" height="6.90" fill="#dcfadb"/>
<rect x="421.94" y="542.70" width="6.60" height="6.90" fill="#dcfadb"/>
<rect x="428.77" y="543.20" width="6.60" height="6.40" fill="#dcfadb"/>
<rect x="435.60" y="542.30" width="6.60" height="7.30" fill="#dcfadb"/>
<rect x="442.43" y="543.70" width="6.60" height="5.90" fill="#dcfadb"/>
<rect x="106.23" y="522.40" width="2.83" height="28.10" fill="#b2f2af"/>
<rect x="113.06" y="522.40" width="2.83" height="28.10" fill="#b2f2af"/>
<rect x="119.89" y="520.80" width="2.83" height="29.70" fill="#b2f2af"/>
<rect x="126.72" y="520.80" width="2.83" height="29.70" fill="#b2f2af"/>
<rect x="133.55" y="514.80" width="2.83" height="35.70" fill="#b2f2af"/>
<rect x="140.38" y="511.80" width="2.83" height="38.70" fill="#b2f2af"/>
<rect x="147.21" y="511.80" width="2.83" height="38.70" fill="#b2f2af"/>
<rect x="154.04" y="509.00" width="2.83" height="41.50" fill="#b2f2af"/>
<rect x="160.87" y="509.00" width="2.83" height="41.50" fill="#b2f2af"/>
<rect x="167.70" y="504.00" width="2.83" height="46.50" fill="#b2f2af"/>
<rect x="174.53" y="504.00" width="2.83" height="46.50" fill="#b2f2af"/>
<rect x="181.36" y="500.40" width="2.83" height="50.10" fill="#b2f2af"/>
<rect x="188.19" y="500.40" width="2.83" height="50.10" fill="#b2f2af"/>
<rect x="195.02" y="507.40" width="2.83" height="43.10" fill="#b2f2af"/>
<rect x="201.85" y="507.40" width="2.83" height="43.10" fill="#b2f2af"/>
<rect x="208.68" y="512.40" width="2.83" height="38.10" fill="#b2f2af"/>
<rect x="215.51" y="512.40" width="2.83" height="38.10" fill="#b2f2af"/>
<rect x="222.34" y="518.40" width="2.83" height="32.10" fill="#b2f2af"/>
<rect x="229.17" y="518.40" width="2.83" height="32.10" fill="#b2f2af"/>
<rect x="236.00" y="517.40" width="2.83" height="33.10" fill="#b2f2af"/>
<rect x="242.83" y="515.80" width="2.83" height="34.70" fill="#b2f2af"/>
<rect x="249.66" y="515.80" width="2.83" height="34.70" fill="#b2f2af"/>
<rect x="256.49" y="519.40" width="2.83" height="31.10" fill="#b2f2af"/>
<rect x="263.32" y="519.40" width="2.83" height="31.10" fill="#b2f2af"/>
<rect x="270.15" y="520.70" width="2.83" height="29.80" fill="#b2f2af"/>
<rect x="276.98" y="520.70" width="2.83" height="29.80" fill="#b2f2af"/>
<rect x="283.81" y="523.30" width="2.83" height="27.20" fill="#b2f2af"/>
<rect x="290.64" y="531.20" width="2.83" height="19.30" fill="#b2f2af"/>
<rect x="297.47" y="531.20" width="2.83" height="19.30" fill="#b2f2af"/>
<rect x="304.30" y="526.00" width="2.83" height="24.50" fill="#b2f2af"/>
<rect x="311.13" y="531.20" width="2.83" height="19.30" fill="#b2f2af"/>
<rect x="317.96" y="531.20" width="2.83" height="19.30" fill="#b2f2af"/>
<rect x="324.79" y="532.30" width="2.83" height="18.20" fill="#b2f2af"/>
<rect x="331.62" y="532.30" width="2.83" height="18.20" fill="#b2f2af"/>
<rect x="338.45" y="534.60" width="2.83" height="15.90" fill="#b2f2af"/>
<rect x="345.28" y="538.80" width="2.83" height="11.70" fill="#b2f2af"/>
<rect x="352.11" y="538.80" width="2.83" height="11.70" fill="#b2f2af"/>
<rect x="358.94" y="536.30" width="2.83" height="14.20" fill="#b2f2af"/>
<rect x="365.77" y="539.50" width="2.83" height="11.00" fill="#b2f2af"/>
<rect x="372.60" y="539.50" width="2.83" height="11.00" fill="#b2f2af"/>
<rect x="379.43" y="539.50" width="2.83" height="11.00" fill="#b2f2af"/>
<rect x="386.26" y="542.70" width="2.83" height="7.80" fill="#b2f2af"/>
<rect x="393.09" y="542.70" width="2.83" height="7.80" fill="#b2f2af"/>
<rect x="399.92" y="544.10" width="2.83" height="6.40" fill="#b2f2af"/>
<rect x="406.75" y="544.10" width="2.83" height="6.40" fill="#b2f2af"/>
<rect x="413.58" y="544.10" width="2.83" height="6.40" fill="#b2f2af"/>
<rect x="420.41" y="544.10" width="2.83" height="6.40" fill="#b2f2af"/>
<rect x="427.24" y="544.60" width="2.83" height="5.90" fill="#b2f2af"/>
<rect x="434.07" y="544.60" width="2.83" height="5.90" fill="#b2f2af"/>
<rect x="440.90" y="545.10" width="2.83" height="5.40" fill="#b2f2af"/>
<rect x="102.03" y="390.40" width="4.40" height="160.10" fill="#4a984b"/>
<rect x="102.03" y="390.40" width="4.40" height="2.2" fill="#4f8f52"/>
<rect x="108.86" y="521.60" width="4.40" height="28.90" fill="#4a984b"/>
<rect x="108.86" y="521.60" width="4.40" height="2.2" fill="#4f8f52"/>
<rect x="115.69" y="519.20" width="4.40" height="31.30" fill="#4a984b"/>
<rect x="115.69" y="519.20" width="4.40" height="2.2" fill="#4f8f52"/>
<rect x="122.52" y="520.00" width="4.40" height="30.50" fill="#4a984b"/>
<rect x="122.52" y="520.00" width="4.40" height="2.2" fill="#4f8f52"/>
<rect x="129.35" y="514.00" width="4.40" height="36.50" fill="#4a984b"/>
<rect x="129.35" y="514.00" width="4.40" height="2.2" fill="#4f8f52"/>
<rect x="136.18" y="506.60" width="4.40" height="43.90" fill="#4a984b"/>
<rect x="136.18" y="506.60" width="4.40" height="2.2" fill="#4f8f52"/>
<rect x="143.01" y="511.00" width="4.40" height="39.50" fill="#4a984b"/>
<rect x="143.01" y="511.00" width="4.40" height="2.2" fill="#4f8f52"/>
<rect x="149.84" y="502.20" width="4.40" height="48.30" fill="#4a984b"/>
<rect x="149.84" y="502.20" width="4.40" height="2.2" fill="#4f8f52"/>
<rect x="156.67" y="508.20" width="4.40" height="42.30" fill="#4a984b"/>
<rect x="156.67" y="508.20" width="4.40" height="2.2" fill="#4f8f52"/>
<rect x="163.50" y="495.60" width="4.40" height="54.90" fill="#4a984b"/>
<rect x="163.50" y="495.60" width="4.40" height="2.2" fill="#4f8f52"/>
<rect x="170.33" y="503.20" width="4.40" height="47.30" fill="#4a984b"/>
<rect x="170.33" y="503.20" width="4.40" height="2.2" fill="#4f8f52"/>
<rect x="177.16" y="499.60" width="4.40" height="50.90" fill="#4a984b"/>
<rect x="177.16" y="499.60" width="4.40" height="2.2" fill="#4f8f52"/>
<rect x="183.99" y="499.60" width="4.40" height="50.90" fill="#4a984b"/>
<rect x="183.99" y="499.60" width="4.40" height="2.2" fill="#4f8f52"/>
<rect x="190.82" y="495.20" width="4.40" height="55.30" fill="#4a984b"/>
<rect x="190.82" y="495.20" width="4.40" height="2.2" fill="#4f8f52"/>
<rect x="197.65" y="506.60" width="4.40" height="43.90" fill="#4a984b"/>
<rect x="197.65" y="506.60" width="4.40" height="2.2" fill="#4f8f52"/>
<rect x="204.48" y="499.00" width="4.40" height="51.50" fill="#4a984b"/>
<rect x="204.48" y="499.00" width="4.40" height="2.2" fill="#4f8f52"/>
<rect x="211.31" y="511.60" width="4.40" height="38.90" fill="#4a984b"/>
<rect x="211.31" y="511.60" width="4.40" height="2.2" fill="#4f8f52"/>
<rect x="218.14" y="509.00" width="4.40" height="41.50" fill="#4a984b"/>
<rect x="218.14" y="509.00" width="4.40" height="2.2" fill="#4f8f52"/>
<rect x="224.97" y="517.60" width="4.40" height="32.90" fill="#4a984b"/>
<rect x="224.97" y="517.60" width="4.40" height="2.2" fill="#4f8f52"/>
<rect x="231.80" y="516.60" width="4.40" height="33.90" fill="#4a984b"/>
<rect x="231.80" y="516.60" width="4.40" height="2.2" fill="#4f8f52"/>
<rect x="238.63" y="515.00" width="4.40" height="35.50" fill="#4a984b"/>
<rect x="238.63" y="515.00" width="4.40" height="2.2" fill="#4f8f52"/>
<rect x="245.46" y="514.40" width="4.40" height="36.10" fill="#4a984b"/>
<rect x="245.46" y="514.40" width="4.40" height="2.2" fill="#4f8f52"/>
<rect x="252.29" y="515.00" width="4.40" height="35.50" fill="#4a984b"/>
<rect x="252.29" y="515.00" width="4.40" height="2.2" fill="#4f8f52"/>
<rect x="259.12" y="518.60" width="4.40" height="31.90" fill="#4a984b"/>
<rect x="259.12" y="518.60" width="4.40" height="2.2" fill="#4f8f52"/>
<rect x="265.95" y="515.80" width="4.40" height="34.70" fill="#4a984b"/>
<rect x="265.95" y="515.80" width="4.40" height="2.2" fill="#4f8f52"/>
<rect x="272.78" y="519.90" width="4.40" height="30.60" fill="#4a984b"/>
<rect x="272.78" y="519.90" width="4.40" height="2.2" fill="#4f8f52"/>
<rect x="279.61" y="519.90" width="4.40" height="30.60" fill="#4a984b"/>
<rect x="279.61" y="519.90" width="4.40" height="2.2" fill="#4f8f52"/>
<rect x="286.44" y="522.50" width="4.40" height="28.00" fill="#4a984b"/>
<rect x="286.44" y="522.50" width="4.40" height="2.2" fill="#4f8f52"/>
<rect x="293.27" y="530.40" width="4.40" height="20.10" fill="#4a984b"/>
<rect x="293.27" y="530.40" width="4.40" height="2.2" fill="#4f8f52"/>
<rect x="300.10" y="525.20" width="4.40" height="25.30" fill="#4a984b"/>
<rect x="300.10" y="525.20" width="4.40" height="2.2" fill="#4f8f52"/>
<rect x="306.93" y="522.90" width="4.40" height="27.60" fill="#4a984b"/>
<rect x="306.93" y="522.90" width="4.40" height="2.2" fill="#4f8f52"/>
<rect x="313.76" y="530.40" width="4.40" height="20.10" fill="#4a984b"/>
<rect x="313.76" y="530.40" width="4.40" height="2.2" fill="#4f8f52"/>
<rect x="320.59" y="529.90" width="4.40" height="20.60" fill="#4a984b"/>
<rect x="320.59" y="529.90" width="4.40" height="2.2" fill="#4f8f52"/>
<rect x="327.42" y="531.50" width="4.40" height="19.00" fill="#4a984b"/>
<rect x="327.42" y="531.50" width="4.40" height="2.2" fill="#4f8f52"/>
<rect x="334.25" y="531.50" width="4.40" height="19.00" fill="#4a984b"/>
<rect x="334.25" y="531.50" width="4.40" height="2.2" fill="#4f8f52"/>
<rect x="341.08" y="533.80" width="4.40" height="16.70" fill="#4a984b"/>
<rect x="341.08" y="533.80" width="4.40" height="2.2" fill="#4f8f52"/>
<rect x="347.91" y="538.00" width="4.40" height="12.50" fill="#4a984b"/>
<rect x="347.91" y="538.00" width="4.40" height="2.2" fill="#4f8f52"/>
<rect x="354.74" y="534.10" width="4.40" height="16.40" fill="#4a984b"/>
<rect x="354.74" y="534.10" width="4.40" height="2.2" fill="#4f8f52"/>
<rect x="361.57" y="535.50" width="4.40" height="15.00" fill="#4a984b"/>
<rect x="361.57" y="535.50" width="4.40" height="2.2" fill="#4f8f52"/>
<rect x="368.40" y="538.70" width="4.40" height="11.80" fill="#4a984b"/>
<rect x="368.40" y="538.70" width="4.40" height="2.2" fill="#4f8f52"/>
<rect x="375.23" y="538.70" width="4.40" height="11.80" fill="#4a984b"/>
<rect x="375.23" y="538.70" width="4.40" height="2.2" fill="#4f8f52"/>
<rect x="382.06" y="535.90" width="4.40" height="14.60" fill="#4a984b"/>
<rect x="382.06" y="535.90" width="4.40" height="2.2" fill="#4f8f52"/>
<rect x="388.89" y="541.90" width="4.40" height="8.60" fill="#4a984b"/>
<rect x="388.89" y="541.90" width="4.40" height="2.2" fill="#4f8f52"/>
<rect x="395.72" y="537.30" width="4.40" height="13.20" fill="#4a984b"/>
<rect x="395.72" y="537.30" width="4.40" height="2.2" fill="#4f8f52"/>
<rect x="402.55" y="543.30" width="4.40" height="7.20" fill="#4a984b"/>
<rect x="402.55" y="543.30" width="4.40" height="2.2" fill="#4f8f52"/>
<rect x="409.38" y="543.30" width="4.40" height="7.20" fill="#4a984b"/>
<rect x="409.38" y="543.30" width="4.40" height="2.2" fill="#4f8f52"/>
<rect x="416.21" y="543.30" width="4.40" height="7.20" fill="#4a984b"/>
<rect x="416.21" y="543.30" width="4.40" height="2.2" fill="#4f8f52"/>
<rect x="423.04" y="543.30" width="4.40" height="7.20" fill="#4a984b"/>
<rect x="423.04" y="543.30" width="4.40" height="2.2" fill="#4f8f52"/>
<rect x="429.87" y="543.80" width="4.40" height="6.70" fill="#4a984b"/>
<rect x="436.70" y="542.90" width="4.40" height="7.60" fill="#4a984b"/>
<rect x="436.70" y="542.90" width="4.40" height="2.2" fill="#4f8f52"/>
<rect x="443.53" y="544.30" width="4.40" height="6.20" fill="#4a984b"/>
</g>
<g class="t">
<text class="tk" font-size="8.5" x="86.5" y="393.1" text-anchor="end">582</text>
<text class="tk" font-size="8.5" x="86.5" y="419.6" text-anchor="end">485</text>
<text class="tk" font-size="8.5" x="86.5" y="446.1" text-anchor="end">388</text>
<text class="tk" font-size="8.5" x="86.5" y="472.6" text-anchor="end">291</text>
<text class="tk" font-size="8.5" x="86.5" y="499.1" text-anchor="end">194</text>
<text class="tk" font-size="8.5" x="86.5" y="525.6" text-anchor="end">97</text>
<text class="tk" font-size="8.5" x="86.5" y="552.1" text-anchor="end">0</text>
<text class="tk" font-size="8.5" x="97.4" y="560.1" text-anchor="middle">0</text>
<text class="tk" font-size="8.5" x="165.7" y="560.1" text-anchor="middle">10</text>
<text class="tk" font-size="8.5" x="234.0" y="560.1" text-anchor="middle">20</text>
<text class="tk" font-size="8.5" x="302.3" y="560.1" text-anchor="middle">30</text>
<text class="tk" font-size="8.5" x="370.6" y="560.1" text-anchor="middle">40</text>
<text class="tk" font-size="8.5" x="438.9" y="560.1" text-anchor="middle">50</text>
<text class="tk" font-size="8.5" x="507.2" y="560.1" text-anchor="middle">60</text>
<text class="yl" font-size="13.5" x="62.60" y="399.0" transform="scale(1.0 1)">К</text>
<text class="yl" font-size="12.3" x="55.89" y="410.2" transform="scale(1.12 1)">о</text>
<text class="yl" font-size="12.3" x="55.89" y="420.1" transform="scale(1.12 1)">л</text>
<text class="yl" font-size="12.3" x="55.89" y="432.3" transform="scale(1.12 1)">-</text>
<text class="yl" font-size="12.3" x="55.89" y="445.0" transform="scale(1.12 1)">в</text>
<text class="yl" font-size="12.3" x="55.89" y="456.0" transform="scale(1.12 1)">о</text>
<text class="yl" font-size="12.3" x="55.89" y="470.5" transform="scale(1.12 1)">к</text>
<text class="yl" font-size="12.3" x="55.89" y="480.4" transform="scale(1.12 1)">л</text>
<text class="yl" font-size="12.3" x="55.89" y="491.0" transform="scale(1.12 1)">е</text>
<text class="yl" font-size="12.3" x="55.89" y="502.5" transform="scale(1.12 1)">т</text>
<text class="yl" font-size="12.3" x="55.89" y="515.4" transform="scale(1.12 1)">о</text>
<text class="yl" font-size="12.3" x="55.89" y="526.8" transform="scale(1.12 1)">к</text>
<text class="xt" font-size="12.8" x="225.7" y="576.9" textLength="107.9" lengthAdjust="spacingAndGlyphs">Размер клеток, мкм</text>
</g>
<text class="cap c" x="153.0" y="633.2" textLength="244.3" lengthAdjust="spacingAndGlyphs">Belmonda (m<tspan class="sub" dy="2.5">клубня</tspan><tspan dy="-2.5"> – 254,0 г)</tspan></text>
<g class="g">
<rect x="566.25" y="373.00" width="2.30" height="191.75" fill="#6f7a84"/>
<rect x="566.25" y="562.45" width="452.75" height="2.30" fill="#778186"/>
<rect x="577.33" y="391.80" width="7.00" height="171.80" fill="#dcfadb"/>
<rect x="584.86" y="531.70" width="7.00" height="31.90" fill="#dcfadb"/>
<rect x="592.39" y="542.10" width="7.00" height="21.50" fill="#dcfadb"/>
<rect x="599.92" y="527.10" width="7.00" height="36.50" fill="#dcfadb"/>
<rect x="607.45" y="511.30" width="7.00" height="52.30" fill="#dcfadb"/>
<rect x="614.98" y="502.90" width="7.00" height="60.70" fill="#dcfadb"/>
<rect x="622.51" y="519.40" width="7.00" height="44.20" fill="#dcfadb"/>
<rect x="630.04" y="487.60" width="7.00" height="76.00" fill="#dcfadb"/>
<rect x="637.57" y="502.90" width="7.00" height="60.70" fill="#dcfadb"/>
<rect x="645.10" y="482.50" width="7.00" height="81.10" fill="#dcfadb"/>
<rect x="652.63" y="499.00" width="7.00" height="64.60" fill="#dcfadb"/>
<rect x="660.16" y="495.30" width="7.00" height="68.30" fill="#dcfadb"/>
<rect x="667.69" y="497.10" width="7.00" height="66.50" fill="#dcfadb"/>
<rect x="675.22" y="499.90" width="7.00" height="63.70" fill="#dcfadb"/>
<rect x="682.75" y="476.30" width="7.00" height="87.30" fill="#dcfadb"/>
<rect x="690.28" y="479.30" width="7.00" height="84.30" fill="#dcfadb"/>
<rect x="697.81" y="487.60" width="7.00" height="76.00" fill="#dcfadb"/>
<rect x="705.34" y="465.10" width="7.00" height="98.50" fill="#dcfadb"/>
<rect x="712.87" y="506.60" width="7.00" height="57.00" fill="#dcfadb"/>
<rect x="720.40" y="489.00" width="7.00" height="74.60" fill="#dcfadb"/>
<rect x="727.93" y="468.40" width="7.00" height="95.20" fill="#dcfadb"/>
<rect x="735.46" y="479.30" width="7.00" height="84.30" fill="#dcfadb"/>
<rect x="742.99" y="484.20" width="7.00" height="79.40" fill="#dcfadb"/>
<rect x="750.52" y="499.00" width="7.00" height="64.60" fill="#dcfadb"/>
<rect x="758.05" y="499.90" width="7.00" height="63.70" fill="#dcfadb"/>
<rect x="765.58" y="477.90" width="7.00" height="85.70" fill="#dcfadb"/>
<rect x="773.11" y="494.40" width="7.00" height="69.20" fill="#dcfadb"/>
<rect x="780.64" y="506.60" width="7.00" height="57.00" fill="#dcfadb"/>
<rect x="788.17" y="511.30" width="7.00" height="52.30" fill="#dcfadb"/>
<rect x="795.70" y="522.40" width="7.00" height="41.20" fill="#dcfadb"/>
<rect x="803.23" y="514.50" width="7.00" height="49.10" fill="#dcfadb"/>
<rect x="810.76" y="506.60" width="7.00" height="57.00" fill="#dcfadb"/>
<rect x="818.29" y="515.90" width="7.00" height="47.70" fill="#dcfadb"/>
<rect x="825.82" y="514.30" width="7.00" height="49.30" fill="#dcfadb"/>
<rect x="833.35" y="514.30" width="7.00" height="49.30" fill="#dcfadb"/>
<rect x="840.88" y="525.90" width="7.00" height="37.70" fill="#dcfadb"/>
<rect x="848.41" y="531.70" width="7.00" height="31.90" fill="#dcfadb"/>
<rect x="855.94" y="538.20" width="7.00" height="25.40" fill="#dcfadb"/>
<rect x="863.47" y="531.70" width="7.00" height="31.90" fill="#dcfadb"/>
<rect x="871.00" y="535.20" width="7.00" height="28.40" fill="#dcfadb"/>
<rect x="878.53" y="548.40" width="7.00" height="15.20" fill="#dcfadb"/>
<rect x="886.06" y="550.20" width="7.00" height="13.40" fill="#dcfadb"/>
<rect x="893.59" y="547.20" width="7.00" height="16.40" fill="#dcfadb"/>
<rect x="901.12" y="548.40" width="7.00" height="15.20" fill="#dcfadb"/>
<rect x="908.65" y="553.30" width="7.00" height="10.30" fill="#dcfadb"/>
<rect x="916.18" y="542.10" width="7.00" height="21.50" fill="#dcfadb"/>
<rect x="923.71" y="548.40" width="7.00" height="15.20" fill="#dcfadb"/>
<rect x="931.24" y="554.90" width="7.00" height="8.70" fill="#dcfadb"/>
<rect x="938.77" y="556.30" width="7.00" height="7.30" fill="#dcfadb"/>
<rect x="946.30" y="557.70" width="7.00" height="5.90" fill="#dcfadb"/>
<rect x="583.03" y="533.10" width="3.13" height="31.40" fill="#b2f2af"/>
<rect x="590.56" y="543.50" width="3.13" height="21.00" fill="#b2f2af"/>
<rect x="598.09" y="543.50" width="3.13" height="21.00" fill="#b2f2af"/>
<rect x="605.62" y="528.50" width="3.13" height="36.00" fill="#b2f2af"/>
<rect x="613.15" y="512.70" width="3.13" height="51.80" fill="#b2f2af"/>
<rect x="620.68" y="520.80" width="3.13" height="43.70" fill="#b2f2af"/>
<rect x="628.21" y="520.80" width="3.13" height="43.70" fill="#b2f2af"/>
<rect x="635.74" y="504.30" width="3.13" height="60.20" fill="#b2f2af"/>
<rect x="643.27" y="504.30" width="3.13" height="60.20" fill="#b2f2af"/>
<rect x="650.80" y="500.40" width="3.13" height="64.10" fill="#b2f2af"/>
<rect x="658.33" y="500.40" width="3.13" height="64.10" fill="#b2f2af"/>
<rect x="665.86" y="498.50" width="3.13" height="66.00" fill="#b2f2af"/>
<rect x="673.39" y="501.30" width="3.13" height="63.20" fill="#b2f2af"/>
<rect x="680.92" y="501.30" width="3.13" height="63.20" fill="#b2f2af"/>
<rect x="688.45" y="480.70" width="3.13" height="83.80" fill="#b2f2af"/>
<rect x="695.98" y="489.00" width="3.13" height="75.50" fill="#b2f2af"/>
<rect x="703.51" y="489.00" width="3.13" height="75.50" fill="#b2f2af"/>
<rect x="711.04" y="508.00" width="3.13" height="56.50" fill="#b2f2af"/>
<rect x="718.57" y="508.00" width="3.13" height="56.50" fill="#b2f2af"/>
<rect x="726.10" y="490.40" width="3.13" height="74.10" fill="#b2f2af"/>
<rect x="733.63" y="480.70" width="3.13" height="83.80" fill="#b2f2af"/>
<rect x="741.16" y="485.60" width="3.13" height="78.90" fill="#b2f2af"/>
<rect x="748.69" y="500.40" width="3.13" height="64.10" fill="#b2f2af"/>
<rect x="756.22" y="501.30" width="3.13" height="63.20" fill="#b2f2af"/>
<rect x="763.75" y="501.30" width="3.13" height="63.20" fill="#b2f2af"/>
<rect x="771.28" y="495.80" width="3.13" height="68.70" fill="#b2f2af"/>
<rect x="778.81" y="508.00" width="3.13" height="56.50" fill="#b2f2af"/>
<rect x="786.34" y="512.70" width="3.13" height="51.80" fill="#b2f2af"/>
<rect x="793.87" y="523.80" width="3.13" height="40.70" fill="#b2f2af"/>
<rect x="801.40" y="523.80" width="3.13" height="40.70" fill="#b2f2af"/>
<rect x="808.93" y="515.90" width="3.13" height="48.60" fill="#b2f2af"/>
<rect x="816.46" y="517.30" width="3.13" height="47.20" fill="#b2f2af"/>
<rect x="823.99" y="517.30" width="3.13" height="47.20" fill="#b2f2af"/>
<rect x="831.52" y="515.70" width="3.13" height="48.80" fill="#b2f2af"/>
<rect x="839.05" y="527.30" width="3.13" height="37.20" fill="#b2f2af"/>
<rect x="846.58" y="533.10" width="3.13" height="31.40" fill="#b2f2af"/>
<rect x="854.11" y="539.60" width="3.13" height="24.90" fill="#b2f2af"/>
<rect x="861.64" y="539.60" width="3.13" height="24.90" fill="#b2f2af"/>
<rect x="869.17" y="536.60" width="3.13" height="27.90" fill="#b2f2af"/>
<rect x="876.70" y="549.80" width="3.13" height="14.70" fill="#b2f2af"/>
<rect x="884.23" y="551.60" width="3.13" height="12.90" fill="#b2f2af"/>
<rect x="891.76" y="551.60" width="3.13" height="12.90" fill="#b2f2af"/>
<rect x="899.29" y="549.80" width="3.13" height="14.70" fill="#b2f2af"/>
<rect x="906.82" y="554.70" width="3.13" height="9.80" fill="#b2f2af"/>
<rect x="914.35" y="554.70" width="3.13" height="9.80" fill="#b2f2af"/>
<rect x="921.88" y="549.80" width="3.13" height="14.70" fill="#b2f2af"/>
<rect x="929.41" y="556.30" width="3.13" height="8.20" fill="#b2f2af"/>
<rect x="936.94" y="557.70" width="3.13" height="6.80" fill="#b2f2af"/>
<rect x="944.47" y="559.10" width="3.13" height="5.40" fill="#b2f2af"/>
<rect x="578.43" y="392.40" width="4.80" height="172.10" fill="#4a984b"/>
<rect x="578.43" y="392.40" width="4.80" height="2.2" fill="#4f8f52"/>
<rect x="585.96" y="532.30" width="4.80" height="32.20" fill="#4a984b"/>
<rect x="585.96" y="532.30" width="4.80" height="2.2" fill="#4f8f52"/>
<rect x="593.49" y="542.70" width="4.80" height="21.80" fill="#4a984b"/>
<rect x="593.49" y="542.70" width="4.80" height="2.2" fill="#4f8f52"/>
<rect x="601.02" y="527.70" width="4.80" height="36.80" fill="#4a984b"/>
<rect x="601.02" y="527.70" width="4.80" height="2.2" fill="#4f8f52"/>
<rect x="608.55" y="511.90" width="4.80" height="52.60" fill="#4a984b"/>
<rect x="608.55" y="511.90" width="4.80" height="2.2" fill="#4f8f52"/>
<rect x="616.08" y="503.50" width="4.80" height="61.00" fill="#4a984b"/>
<rect x="616.08" y="503.50" width="4.80" height="2.2" fill="#4f8f52"/>
<rect x="623.61" y="520.00" width="4.80" height="44.50" fill="#4a984b"/>
<rect x="623.61" y="520.00" width="4.80" height="2.2" fill="#4f8f52"/>
<rect x="631.14" y="488.20" width="4.80" height="76.30" fill="#4a984b"/>
<rect x="631.14" y="488.20" width="4.80" height="2.2" fill="#4f8f52"/>
<rect x="638.67" y="503.50" width="4.80" height="61.00" fill="#4a984b"/>
<rect x="638.67" y="503.50" width="4.80" height="2.2" fill="#4f8f52"/>
<rect x="646.20" y="483.10" width="4.80" height="81.40" fill="#4a984b"/>
<rect x="646.20" y="483.10" width="4.80" height="2.2" fill="#4f8f52"/>
<rect x="653.73" y="499.60" width="4.80" height="64.90" fill="#4a984b"/>
<rect x="653.73" y="499.60" width="4.80" height="2.2" fill="#4f8f52"/>
<rect x="661.26" y="495.90" width="4.80" height="68.60" fill="#4a984b"/>
<rect x="661.26" y="495.90" width="4.80" height="2.2" fill="#4f8f52"/>
<rect x="668.79" y="497.70" width="4.80" height="66.80" fill="#4a984b"/>
<rect x="668.79" y="497.70" width="4.80" height="2.2" fill="#4f8f52"/>
<rect x="676.32" y="500.50" width="4.80" height="64.00" fill="#4a984b"/>
<rect x="676.32" y="500.50" width="4.80" height="2.2" fill="#4f8f52"/>
<rect x="683.85" y="476.90" width="4.80" height="87.60" fill="#4a984b"/>
<rect x="683.85" y="476.90" width="4.80" height="2.2" fill="#4f8f52"/>
<rect x="691.38" y="479.90" width="4.80" height="84.60" fill="#4a984b"/>
<rect x="691.38" y="479.90" width="4.80" height="2.2" fill="#4f8f52"/>
<rect x="698.91" y="488.20" width="4.80" height="76.30" fill="#4a984b"/>
<rect x="698.91" y="488.20" width="4.80" height="2.2" fill="#4f8f52"/>
<rect x="706.44" y="465.70" width="4.80" height="98.80" fill="#4a984b"/>
<rect x="706.44" y="465.70" width="4.80" height="2.2" fill="#4f8f52"/>
<rect x="713.97" y="507.20" width="4.80" height="57.30" fill="#4a984b"/>
<rect x="713.97" y="507.20" width="4.80" height="2.2" fill="#4f8f52"/>
<rect x="721.50" y="489.60" width="4.80" height="74.90" fill="#4a984b"/>
<rect x="721.50" y="489.60" width="4.80" height="2.2" fill="#4f8f52"/>
<rect x="729.03" y="469.00" width="4.80" height="95.50" fill="#4a984b"/>
<rect x="729.03" y="469.00" width="4.80" height="2.2" fill="#4f8f52"/>
<rect x="736.56" y="479.90" width="4.80" height="84.60" fill="#4a984b"/>
<rect x="736.56" y="479.90" width="4.80" height="2.2" fill="#4f8f52"/>
<rect x="744.09" y="484.80" width="4.80" height="79.70" fill="#4a984b"/>
<rect x="744.09" y="484.80" width="4.80" height="2.2" fill="#4f8f52"/>
<rect x="751.62" y="499.60" width="4.80" height="64.90" fill="#4a984b"/>
<rect x="751.62" y="499.60" width="4.80" height="2.2" fill="#4f8f52"/>
<rect x="759.15" y="500.50" width="4.80" height="64.00" fill="#4a984b"/>
<rect x="759.15" y="500.50" width="4.80" height="2.2" fill="#4f8f52"/>
<rect x="766.68" y="478.50" width="4.80" height="86.00" fill="#4a984b"/>
<rect x="766.68" y="478.50" width="4.80" height="2.2" fill="#4f8f52"/>
<rect x="774.21" y="495.00" width="4.80" height="69.50" fill="#4a984b"/>
<rect x="774.21" y="495.00" width="4.80" height="2.2" fill="#4f8f52"/>
<rect x="781.74" y="507.20" width="4.80" height="57.30" fill="#4a984b"/>
<rect x="781.74" y="507.20" width="4.80" height="2.2" fill="#4f8f52"/>
<rect x="789.27" y="511.90" width="4.80" height="52.60" fill="#4a984b"/>
<rect x="789.27" y="511.90" width="4.80" height="2.2" fill="#4f8f52"/>
<rect x="796.80" y="523.00" width="4.80" height="41.50" fill="#4a984b"/>
<rect x="796.80" y="523.00" width="4.80" height="2.2" fill="#4f8f52"/>
<rect x="804.33" y="515.10" width="4.80" height="49.40" fill="#4a984b"/>
<rect x="804.33" y="515.10" width="4.80" height="2.2" fill="#4f8f52"/>
<rect x="811.86" y="507.20" width="4.80" height="57.30" fill="#4a984b"/>
<rect x="811.86" y="507.20" width="4.80" height="2.2" fill="#4f8f52"/>
<rect x="819.39" y="516.50" width="4.80" height="48.00" fill="#4a984b"/>
<rect x="819.39" y="516.50" width="4.80" height="2.2" fill="#4f8f52"/>
<rect x="826.92" y="514.90" width="4.80" height="49.60" fill="#4a984b"/>
<rect x="826.92" y="514.90" width="4.80" height="2.2" fill="#4f8f52"/>
<rect x="834.45" y="514.90" width="4.80" height="49.60" fill="#4a984b"/>
<rect x="834.45" y="514.90" width="4.80" height="2.2" fill="#4f8f52"/>
<rect x="841.98" y="526.50" width="4.80" height="38.00" fill="#4a984b"/>
<rect x="841.98" y="526.50" width="4.80" height="2.2" fill="#4f8f52"/>
<rect x="849.51" y="532.30" width="4.80" height="32.20" fill="#4a984b"/>
<rect x="849.51" y="532.30" width="4.80" height="2.2" fill="#4f8f52"/>
<rect x="857.04" y="538.80" width="4.80" height="25.70" fill="#4a984b"/>
<rect x="857.04" y="538.80" width="4.80" height="2.2" fill="#4f8f52"/>
<rect x="864.57" y="532.30" width="4.80" height="32.20" fill="#4a984b"/>
<rect x="864.57" y="532.30" width="4.80" height="2.2" fill="#4f8f52"/>
<rect x="872.10" y="535.80" width="4.80" height="28.70" fill="#4a984b"/>
<rect x="872.10" y="535.80" width="4.80" height="2.2" fill="#4f8f52"/>
<rect x="879.63" y="549.00" width="4.80" height="15.50" fill="#4a984b"/>
<rect x="879.63" y="549.00" width="4.80" height="2.2" fill="#4f8f52"/>
<rect x="887.16" y="550.80" width="4.80" height="13.70" fill="#4a984b"/>
<rect x="887.16" y="550.80" width="4.80" height="2.2" fill="#4f8f52"/>
<rect x="894.69" y="547.80" width="4.80" height="16.70" fill="#4a984b"/>
<rect x="894.69" y="547.80" width="4.80" height="2.2" fill="#4f8f52"/>
<rect x="902.22" y="549.00" width="4.80" height="15.50" fill="#4a984b"/>
<rect x="902.22" y="549.00" width="4.80" height="2.2" fill="#4f8f52"/>
<rect x="909.75" y="553.90" width="4.80" height="10.60" fill="#4a984b"/>
<rect x="909.75" y="553.90" width="4.80" height="2.2" fill="#4f8f52"/>
<rect x="917.28" y="542.70" width="4.80" height="21.80" fill="#4a984b"/>
<rect x="917.28" y="542.70" width="4.80" height="2.2" fill="#4f8f52"/>
<rect x="924.81" y="549.00" width="4.80" height="15.50" fill="#4a984b"/>
<rect x="924.81" y="549.00" width="4.80" height="2.2" fill="#4f8f52"/>
<rect x="932.34" y="555.50" width="4.80" height="9.00" fill="#4a984b"/>
<rect x="932.34" y="555.50" width="4.80" height="2.2" fill="#4f8f52"/>
<rect x="939.87" y="556.90" width="4.80" height="7.60" fill="#4a984b"/>
<rect x="939.87" y="556.90" width="4.80" height="2.2" fill="#4f8f52"/>
<rect x="947.40" y="558.30" width="4.80" height="6.20" fill="#4a984b"/>
</g>
<g class="t">
<text class="tk" font-size="9.4" x="560.7" y="394.2" text-anchor="end">108</text>
<text class="tk" font-size="9.4" x="560.7" y="422.8" text-anchor="end">90</text>
<text class="tk" font-size="9.4" x="560.7" y="451.5" text-anchor="end">72</text>
<text class="tk" font-size="9.4" x="560.7" y="480.1" text-anchor="end">54</text>
<text class="tk" font-size="9.4" x="560.7" y="508.8" text-anchor="end">36</text>
<text class="tk" font-size="9.4" x="560.7" y="537.4" text-anchor="end">18</text>
<text class="tk" font-size="9.4" x="560.7" y="566.1" text-anchor="end">0</text>
<text class="tk" font-size="9.4" x="573.3" y="573.2" text-anchor="middle">0</text>
<text class="tk" font-size="9.4" x="648.6" y="573.2" text-anchor="middle">10</text>
<text class="tk" font-size="9.4" x="723.9" y="573.2" text-anchor="middle">20</text>
<text class="tk" font-size="9.4" x="799.2" y="573.2" text-anchor="middle">30</text>
<text class="tk" font-size="9.4" x="874.5" y="573.2" text-anchor="middle">40</text>
<text class="tk" font-size="9.4" x="949.8" y="573.2" text-anchor="middle">50</text>
<text class="tk" font-size="9.4" x="1025.1" y="573.2" text-anchor="middle">60</text>
<text class="yl" font-size="14.0" x="534.10" y="400.0" transform="scale(1.0 1)">К</text>
<text class="yl" font-size="12.6" x="476.88" y="412.0" transform="scale(1.12 1)">о</text>
<text class="yl" font-size="12.6" x="476.88" y="423.4" transform="scale(1.12 1)">л</text>
<text class="yl" font-size="12.6" x="476.88" y="435.5" transform="scale(1.12 1)">-</text>
<text class="yl" font-size="12.6" x="476.88" y="448.4" transform="scale(1.12 1)">в</text>
<text class="yl" font-size="12.6" x="476.88" y="461.4" transform="scale(1.12 1)">о</text>
<text class="yl" font-size="12.6" x="476.88" y="477.6" transform="scale(1.12 1)">к</text>
<text class="yl" font-size="12.6" x="476.88" y="488.9" transform="scale(1.12 1)">л</text>
<text class="yl" font-size="12.6" x="476.88" y="500.2" transform="scale(1.12 1)">е</text>
<text class="yl" font-size="12.6" x="476.88" y="512.3" transform="scale(1.12 1)">т</text>
<text class="yl" font-size="12.6" x="476.88" y="526.1" transform="scale(1.12 1)">о</text>
<text class="yl" font-size="12.6" x="476.88" y="538.2" transform="scale(1.12 1)">к</text>
<text class="xt" font-size="14.1" x="715.6" y="594.7" textLength="116.5" lengthAdjust="spacingAndGlyphs">Размер клеток, мкм</text>
</g>
<text class="cap c" x="667.2" y="633.8" textLength="236.0" lengthAdjust="spacingAndGlyphs">Belmonda (m<tspan class="sub" dy="2.5">клубня</tspan><tspan dy="-2.5"> – 93,7 г)</tspan></text>
<g class="g">
<rect x="102.95" y="719.60" width="1.70" height="204.40" fill="#566070"/>
<rect x="102.95" y="922.00" width="417.05" height="2.00" fill="#6f7a84"/>
<rect x="114.40" y="796.00" width="7.40" height="127.00" fill="#dcfadb"/>
<rect x="122.40" y="882.50" width="7.40" height="40.50" fill="#dcfadb"/>
<rect x="130.40" y="872.80" width="7.40" height="50.20" fill="#dcfadb"/>
<rect x="138.40" y="860.90" width="7.40" height="62.10" fill="#dcfadb"/>
<rect x="146.40" y="807.60" width="7.40" height="115.40" fill="#dcfadb"/>
<rect x="154.40" y="789.30" width="7.40" height="133.70" fill="#dcfadb"/>
<rect x="162.40" y="786.70" width="7.40" height="136.30" fill="#dcfadb"/>
<rect x="170.40" y="762.60" width="7.40" height="160.40" fill="#dcfadb"/>
<rect x="178.40" y="744.10" width="7.40" height="178.90" fill="#dcfadb"/>
<rect x="186.40" y="762.60" width="7.40" height="160.40" fill="#dcfadb"/>
<rect x="194.40" y="786.70" width="7.40" height="136.30" fill="#dcfadb"/>
<rect x="202.40" y="739.40" width="7.40" height="183.60" fill="#dcfadb"/>
<rect x="210.40" y="761.90" width="7.40" height="161.10" fill="#dcfadb"/>
<rect x="218.40" y="765.40" width="7.40" height="157.60" fill="#dcfadb"/>
<rect x="226.40" y="803.20" width="7.40" height="119.80" fill="#dcfadb"/>
<rect x="234.40" y="761.20" width="7.40" height="161.80" fill="#dcfadb"/>
<rect x="242.40" y="812.90" width="7.40" height="110.10" fill="#dcfadb"/>
<rect x="250.40" y="782.80" width="7.40" height="140.20" fill="#dcfadb"/>
<rect x="258.40" y="814.80" width="7.40" height="108.20" fill="#dcfadb"/>
<rect x="266.40" y="826.90" width="7.40" height="96.10" fill="#dcfadb"/>
<rect x="274.40" y="821.80" width="7.40" height="101.20" fill="#dcfadb"/>
<rect x="282.40" y="836.10" width="7.40" height="86.90" fill="#dcfadb"/>
<rect x="290.40" y="851.20" width="7.40" height="71.80" fill="#dcfadb"/>
<rect x="298.40" y="853.50" width="7.40" height="69.50" fill="#dcfadb"/>
<rect x="306.40" y="847.70" width="7.40" height="75.30" fill="#dcfadb"/>
<rect x="314.40" y="869.30" width="7.40" height="53.70" fill="#dcfadb"/>
<rect x="322.40" y="875.10" width="7.40" height="47.90" fill="#dcfadb"/>
<rect x="330.40" y="875.10" width="7.40" height="47.90" fill="#dcfadb"/>
<rect x="338.40" y="882.00" width="7.40" height="41.00" fill="#dcfadb"/>
<rect x="346.40" y="887.80" width="7.40" height="35.20" fill="#dcfadb"/>
<rect x="354.40" y="902.20" width="7.40" height="20.80" fill="#dcfadb"/>
<rect x="362.40" y="895.30" width="7.40" height="27.70" fill="#dcfadb"/>
<rect x="370.40" y="904.50" width="7.40" height="18.50" fill="#dcfadb"/>
<rect x="378.40" y="905.70" width="7.40" height="17.30" fill="#dcfadb"/>
<rect x="386.40" y="911.50" width="7.40" height="11.50" fill="#dcfadb"/>
<rect x="394.40" y="906.90" width="7.40" height="16.10" fill="#dcfadb"/>
<rect x="402.40" y="911.50" width="7.40" height="11.50" fill="#dcfadb"/>
<rect x="410.40" y="916.10" width="7.40" height="6.90" fill="#dcfadb"/>
<rect x="418.40" y="916.10" width="7.40" height="6.90" fill="#dcfadb"/>
<rect x="426.40" y="913.10" width="7.40" height="9.90" fill="#dcfadb"/>
<rect x="434.40" y="915.00" width="7.40" height="8.00" fill="#dcfadb"/>
<rect x="442.40" y="916.10" width="7.40" height="6.90" fill="#dcfadb"/>
<rect x="450.40" y="918.50" width="7.40" height="4.50" fill="#dcfadb"/>
<rect x="458.40" y="920.60" width="7.40" height="2.40" fill="#dcfadb"/>
<rect x="466.40" y="920.60" width="7.40" height="2.40" fill="#dcfadb"/>
<rect x="498.40" y="919.60" width="7.40" height="3.40" fill="#dcfadb"/>
<rect x="120.50" y="883.90" width="3.20" height="39.85" fill="#b2f2af"/>
<rect x="128.50" y="883.90" width="3.20" height="39.85" fill="#b2f2af"/>
<rect x="136.50" y="874.20" width="3.20" height="49.55" fill="#b2f2af"/>
<rect x="144.50" y="862.30" width="3.20" height="61.45" fill="#b2f2af"/>
<rect x="152.50" y="809.00" width="3.20" height="114.75" fill="#b2f2af"/>
<rect x="160.50" y="790.70" width="3.20" height="133.05" fill="#b2f2af"/>
<rect x="168.50" y="788.10" width="3.20" height="135.65" fill="#b2f2af"/>
<rect x="176.50" y="764.00" width="3.20" height="159.75" fill="#b2f2af"/>
<rect x="184.50" y="764.00" width="3.20" height="159.75" fill="#b2f2af"/>
<rect x="192.50" y="788.10" width="3.20" height="135.65" fill="#b2f2af"/>
<rect x="200.50" y="788.10" width="3.20" height="135.65" fill="#b2f2af"/>
<rect x="208.50" y="763.30" width="3.20" height="160.45" fill="#b2f2af"/>
<rect x="216.50" y="766.80" width="3.20" height="156.95" fill="#b2f2af"/>
<rect x="224.50" y="804.60" width="3.20" height="119.15" fill="#b2f2af"/>
<rect x="232.50" y="804.60" width="3.20" height="119.15" fill="#b2f2af"/>
<rect x="240.50" y="814.30" width="3.20" height="109.45" fill="#b2f2af"/>
<rect x="248.50" y="814.30" width="3.20" height="109.45" fill="#b2f2af"/>
<rect x="256.50" y="816.20" width="3.20" height="107.55" fill="#b2f2af"/>
<rect x="264.50" y="828.30" width="3.20" height="95.45" fill="#b2f2af"/>
<rect x="272.50" y="828.30" width="3.20" height="95.45" fill="#b2f2af"/>
<rect x="280.50" y="837.50" width="3.20" height="86.25" fill="#b2f2af"/>
<rect x="288.50" y="852.60" width="3.20" height="71.15" fill="#b2f2af"/>
<rect x="296.50" y="854.90" width="3.20" height="68.85" fill="#b2f2af"/>
<rect x="304.50" y="854.90" width="3.20" height="68.85" fill="#b2f2af"/>
<rect x="312.50" y="870.70" width="3.20" height="53.05" fill="#b2f2af"/>
<rect x="320.50" y="876.50" width="3.20" height="47.25" fill="#b2f2af"/>
<rect x="328.50" y="876.50" width="3.20" height="47.25" fill="#b2f2af"/>
<rect x="336.50" y="883.40" width="3.20" height="40.35" fill="#b2f2af"/>
<rect x="344.50" y="889.20" width="3.20" height="34.55" fill="#b2f2af"/>
<rect x="352.50" y="903.60" width="3.20" height="20.15" fill="#b2f2af"/>
<rect x="360.50" y="903.60" width="3.20" height="20.15" fill="#b2f2af"/>
<rect x="368.50" y="905.90" width="3.20" height="17.85" fill="#b2f2af"/>
<rect x="376.50" y="907.10" width="3.20" height="16.65" fill="#b2f2af"/>
<rect x="384.50" y="912.90" width="3.20" height="10.85" fill="#b2f2af"/>
<rect x="392.50" y="912.90" width="3.20" height="10.85" fill="#b2f2af"/>
<rect x="400.50" y="912.90" width="3.20" height="10.85" fill="#b2f2af"/>
<rect x="408.50" y="917.50" width="3.20" height="6.25" fill="#b2f2af"/>
<rect x="416.50" y="917.50" width="3.20" height="6.25" fill="#b2f2af"/>
<rect x="424.50" y="917.50" width="3.20" height="6.25" fill="#b2f2af"/>
<rect x="432.50" y="916.40" width="3.20" height="7.35" fill="#b2f2af"/>
<rect x="440.50" y="917.50" width="3.20" height="6.25" fill="#b2f2af"/>
<rect x="448.50" y="919.90" width="3.20" height="3.85" fill="#b2f2af"/>
<rect x="456.50" y="922.00" width="3.20" height="1.75" fill="#b2f2af"/>
<rect x="464.50" y="922.00" width="3.20" height="1.75" fill="#b2f2af"/>
<rect x="115.50" y="796.60" width="5.20" height="127.15" fill="#4a984b"/>
<rect x="115.50" y="796.60" width="5.20" height="2.2" fill="#4f8f52"/>
<rect x="123.50" y="883.10" width="5.20" height="40.65" fill="#4a984b"/>
<rect x="123.50" y="883.10" width="5.20" height="2.2" fill="#4f8f52"/>
<rect x="131.50" y="873.40" width="5.20" height="50.35" fill="#4a984b"/>
<rect x="131.50" y="873.40" width="5.20" height="2.2" fill="#4f8f52"/>
<rect x="139.50" y="861.50" width="5.20" height="62.25" fill="#4a984b"/>
<rect x="139.50" y="861.50" width="5.20" height="2.2" fill="#4f8f52"/>
<rect x="147.50" y="808.20" width="5.20" height="115.55" fill="#4a984b"/>
<rect x="147.50" y="808.20" width="5.20" height="2.2" fill="#4f8f52"/>
<rect x="155.50" y="789.90" width="5.20" height="133.85" fill="#4a984b"/>
<rect x="155.50" y="789.90" width="5.20" height="2.2" fill="#4f8f52"/>
<rect x="163.50" y="787.30" width="5.20" height="136.45" fill="#4a984b"/>
<rect x="163.50" y="787.30" width="5.20" height="2.2" fill="#4f8f52"/>
<rect x="171.50" y="763.20" width="5.20" height="160.55" fill="#4a984b"/>
<rect x="171.50" y="763.20" width="5.20" height="2.2" fill="#4f8f52"/>
<rect x="179.50" y="744.70" width="5.20" height="179.05" fill="#4a984b"/>
<rect x="179.50" y="744.70" width="5.20" height="2.2" fill="#4f8f52"/>
<rect x="187.50" y="763.20" width="5.20" height="160.55" fill="#4a984b"/>
<rect x="187.50" y="763.20" width="5.20" height="2.2" fill="#4f8f52"/>
<rect x="195.50" y="787.30" width="5.20" height="136.45" fill="#4a984b"/>
<rect x="195.50" y="787.30" width="5.20" height="2.2" fill="#4f8f52"/>
<rect x="203.50" y="740.00" width="5.20" height="183.75" fill="#4a984b"/>
<rect x="203.50" y="740.00" width="5.20" height="2.2" fill="#4f8f52"/>
<rect x="211.50" y="762.50" width="5.20" height="161.25" fill="#4a984b"/>
<rect x="211.50" y="762.50" width="5.20" height="2.2" fill="#4f8f52"/>
<rect x="219.50" y="766.00" width="5.20" height="157.75" fill="#4a984b"/>
<rect x="219.50" y="766.00" width="5.20" height="2.2" fill="#4f8f52"/>
<rect x="227.50" y="803.80" width="5.20" height="119.95" fill="#4a984b"/>
<rect x="227.50" y="803.80" width="5.20" height="2.2" fill="#4f8f52"/>
<rect x="235.50" y="761.80" width="5.20" height="161.95" fill="#4a984b"/>
<rect x="235.50" y="761.80" width="5.20" height="2.2" fill="#4f8f52"/>
<rect x="243.50" y="813.50" width="5.20" height="110.25" fill="#4a984b"/>
<rect x="243.50" y="813.50" width="5.20" height="2.2" fill="#4f8f52"/>
<rect x="251.50" y="783.40" width="5.20" height="140.35" fill="#4a984b"/>
<rect x="251.50" y="783.40" width="5.20" height="2.2" fill="#4f8f52"/>
<rect x="259.50" y="815.40" width="5.20" height="108.35" fill="#4a984b"/>
<rect x="259.50" y="815.40" width="5.20" height="2.2" fill="#4f8f52"/>
<rect x="267.50" y="827.50" width="5.20" height="96.25" fill="#4a984b"/>
<rect x="267.50" y="827.50" width="5.20" height="2.2" fill="#4f8f52"/>
<rect x="275.50" y="822.40" width="5.20" height="101.35" fill="#4a984b"/>
<rect x="275.50" y="822.40" width="5.20" height="2.2" fill="#4f8f52"/>
<rect x="283.50" y="836.70" width="5.20" height="87.05" fill="#4a984b"/>
<rect x="283.50" y="836.70" width="5.20" height="2.2" fill="#4f8f52"/>
<rect x="291.50" y="851.80" width="5.20" height="71.95" fill="#4a984b"/>
<rect x="291.50" y="851.80" width="5.20" height="2.2" fill="#4f8f52"/>
<rect x="299.50" y="854.10" width="5.20" height="69.65" fill="#4a984b"/>
<rect x="299.50" y="854.10" width="5.20" height="2.2" fill="#4f8f52"/>
<rect x="307.50" y="848.30" width="5.20" height="75.45" fill="#4a984b"/>
<rect x="307.50" y="848.30" width="5.20" height="2.2" fill="#4f8f52"/>
<rect x="315.50" y="869.90" width="5.20" height="53.85" fill="#4a984b"/>
<rect x="315.50" y="869.90" width="5.20" height="2.2" fill="#4f8f52"/>
<rect x="323.50" y="875.70" width="5.20" height="48.05" fill="#4a984b"/>
<rect x="323.50" y="875.70" width="5.20" height="2.2" fill="#4f8f52"/>
<rect x="331.50" y="875.70" width="5.20" height="48.05" fill="#4a984b"/>
<rect x="331.50" y="875.70" width="5.20" height="2.2" fill="#4f8f52"/>
<rect x="339.50" y="882.60" width="5.20" height="41.15" fill="#4a984b"/>
<rect x="339.50" y="882.60" width="5.20" height="2.2" fill="#4f8f52"/>
<rect x="347.50" y="888.40" width="5.20" height="35.35" fill="#4a984b"/>
<rect x="347.50" y="888.40" width="5.20" height="2.2" fill="#4f8f52"/>
<rect x="355.50" y="902.80" width="5.20" height="20.95" fill="#4a984b"/>
<rect x="355.50" y="902.80" width="5.20" height="2.2" fill="#4f8f52"/>
<rect x="363.50" y="895.90" width="5.20" height="27.85" fill="#4a984b"/>
<rect x="363.50" y="895.90" width="5.20" height="2.2" fill="#4f8f52"/>
<rect x="371.50" y="905.10" width="5.20" height="18.65" fill="#4a984b"/>
<rect x="371.50" y="905.10" width="5.20" height="2.2" fill="#4f8f52"/>
<rect x="379.50" y="906.30" width="5.20" height="17.45" fill="#4a984b"/>
<rect x="379.50" y="906.30" width="5.20" height="2.2" fill="#4f8f52"/>
<rect x="387.50" y="912.10" width="5.20" height="11.65" fill="#4a984b"/>
<rect x="387.50" y="912.10" width="5.20" height="2.2" fill="#4f8f52"/>
<rect x="395.50" y="907.50" width="5.20" height="16.25" fill="#4a984b"/>
<rect x="395.50" y="907.50" width="5.20" height="2.2" fill="#4f8f52"/>
<rect x="403.50" y="912.10" width="5.20" height="11.65" fill="#4a984b"/>
<rect x="403.50" y="912.10" width="5.20" height="2.2" fill="#4f8f52"/>
<rect x="411.50" y="916.70" width="5.20" height="7.05" fill="#4a984b"/>
<rect x="411.50" y="916.70" width="5.20" height="2.2" fill="#4f8f52"/>
<rect x="419.50" y="916.70" width="5.20" height="7.05" fill="#4a984b"/>
<rect x="419.50" y="916.70" width="5.20" height="2.2" fill="#4f8f52"/>
<rect x="427.50" y="913.70" width="5.20" height="10.05" fill="#4a984b"/>
<rect x="427.50" y="913.70" width="5.20" height="2.2" fill="#4f8f52"/>
<rect x="435.50" y="915.60" width="5.20" height="8.15" fill="#4a984b"/>
<rect x="435.50" y="915.60" width="5.20" height="2.2" fill="#4f8f52"/>
<rect x="443.50" y="916.70" width="5.20" height="7.05" fill="#4a984b"/>
<rect x="443.50" y="916.70" width="5.20" height="2.2" fill="#4f8f52"/>
<rect x="451.50" y="919.10" width="5.20" height="4.65" fill="#4a984b"/>
<rect x="459.50" y="921.20" width="5.20" height="2.55" fill="#4a984b"/>
<rect x="467.50" y="921.20" width="5.20" height="2.55" fill="#4a984b"/>
<rect x="499.50" y="920.20" width="5.20" height="3.55" fill="#4a984b"/>
</g>
<g class="t">
<text class="tk" font-size="10.0" x="97.4" y="742.7" text-anchor="end"><tspan font-size="7.0" dy="0.8">1</tspan><tspan dy="-0.8"> 156</tspan></text>
<text class="tk" font-size="10.0" x="97.4" y="773.3" text-anchor="end">130</text>
<text class="tk" font-size="10.0" x="97.4" y="803.8" text-anchor="end">104</text>
<text class="tk" font-size="10.0" x="97.4" y="834.4" text-anchor="end">78</text>
<text class="tk" font-size="10.0" x="97.4" y="865.0" text-anchor="end">52</text>
<text class="tk" font-size="10.0" x="97.4" y="895.6" text-anchor="end">26</text>
<text class="tk" font-size="10.0" x="97.4" y="926.1" text-anchor="end">0</text>
<text class="tk" font-size="10.0" x="110.1" y="934.8" text-anchor="middle">0</text>
<text class="tk" font-size="10.0" x="190.1" y="934.8" text-anchor="middle">10</text>
<text class="tk" font-size="10.0" x="270.1" y="934.8" text-anchor="middle">20</text>
<text class="tk" font-size="10.0" x="350.1" y="934.8" text-anchor="middle">30</text>
<text class="tk" font-size="10.0" x="430.1" y="934.8" text-anchor="middle">40</text>
<text class="tk" font-size="10.0" x="510.1" y="934.8" text-anchor="middle">50</text>
<text class="yl" font-size="15.5" x="61.40" y="750.5" transform="scale(1.0 1)">К</text>
<text class="yl" font-size="14.0" x="54.82" y="764.1" transform="scale(1.12 1)">о</text>
<text class="yl" font-size="14.0" x="54.82" y="775.2" transform="scale(1.12 1)">л</text>
<text class="yl" font-size="14.0" x="54.82" y="788.9" transform="scale(1.12 1)">-</text>
<text class="yl" font-size="14.0" x="54.82" y="803.2" transform="scale(1.12 1)">в</text>
<text class="yl" font-size="14.0" x="54.82" y="816.9" transform="scale(1.12 1)">о</text>
<text class="yl" font-size="14.0" x="54.82" y="832.7" transform="scale(1.12 1)">к</text>
<text class="yl" font-size="14.0" x="54.82" y="843.8" transform="scale(1.12 1)">л</text>
<text class="yl" font-size="14.0" x="54.82" y="855.8" transform="scale(1.12 1)">е</text>
<text class="yl" font-size="14.0" x="54.82" y="870.4" transform="scale(1.12 1)">т</text>
<text class="yl" font-size="14.0" x="54.82" y="885.9" transform="scale(1.12 1)">о</text>
<text class="yl" font-size="14.0" x="54.82" y="899.6" transform="scale(1.12 1)">к</text>
<text class="xt" font-size="15.0" x="265.0" y="958.0" textLength="126.0" lengthAdjust="spacingAndGlyphs">Размер клеток, мкм</text>
</g>
<text class="cap c" x="147.5" y="1018.2" textLength="202.5" lengthAdjust="spacingAndGlyphs">Lilly (m<tspan class="sub" dy="2.5">клубня</tspan><tspan dy="-2.5"> – 232,0 г)</tspan></text>
<g class="g">
<rect x="570.95" y="724.30" width="2.30" height="198.25" fill="#6f7a84"/>
<rect x="570.95" y="920.25" width="460.65" height="2.30" fill="#778186"/>
<rect x="582.42" y="763.80" width="7.40" height="157.60" fill="#dcfadb"/>
<rect x="590.34" y="878.60" width="7.40" height="42.80" fill="#dcfadb"/>
<rect x="598.26" y="851.20" width="7.40" height="70.20" fill="#dcfadb"/>
<rect x="606.18" y="844.30" width="7.40" height="77.10" fill="#dcfadb"/>
<rect x="614.10" y="793.70" width="7.40" height="127.70" fill="#dcfadb"/>
<rect x="622.02" y="794.90" width="7.40" height="126.50" fill="#dcfadb"/>
<rect x="629.94" y="784.40" width="7.40" height="137.00" fill="#dcfadb"/>
<rect x="637.86" y="756.80" width="7.40" height="164.60" fill="#dcfadb"/>
<rect x="645.78" y="744.10" width="7.40" height="177.30" fill="#dcfadb"/>
<rect x="653.70" y="764.70" width="7.40" height="156.70" fill="#dcfadb"/>
<rect x="661.62" y="749.20" width="7.40" height="172.20" fill="#dcfadb"/>
<rect x="669.54" y="753.10" width="7.40" height="168.30" fill="#dcfadb"/>
<rect x="677.46" y="761.90" width="7.40" height="159.50" fill="#dcfadb"/>
<rect x="685.38" y="788.60" width="7.40" height="132.80" fill="#dcfadb"/>
<rect x="693.30" y="792.60" width="7.40" height="128.80" fill="#dcfadb"/>
<rect x="701.22" y="779.30" width="7.40" height="142.10" fill="#dcfadb"/>
<rect x="709.14" y="816.40" width="7.40" height="105.00" fill="#dcfadb"/>
<rect x="717.06" y="826.20" width="7.40" height="95.20" fill="#dcfadb"/>
<rect x="724.98" y="818.80" width="7.40" height="102.60" fill="#dcfadb"/>
<rect x="732.90" y="841.50" width="7.40" height="79.90" fill="#dcfadb"/>
<rect x="740.82" y="843.60" width="7.40" height="77.80" fill="#dcfadb"/>
<rect x="748.74" y="838.90" width="7.40" height="82.50" fill="#dcfadb"/>
<rect x="756.66" y="868.60" width="7.40" height="52.80" fill="#dcfadb"/>
<rect x="764.58" y="864.00" width="7.40" height="57.40" fill="#dcfadb"/>
<rect x="772.50" y="865.60" width="7.40" height="55.80" fill="#dcfadb"/>
<rect x="780.42" y="883.20" width="7.40" height="38.20" fill="#dcfadb"/>
<rect x="788.34" y="867.50" width="7.40" height="53.90" fill="#dcfadb"/>
<rect x="796.26" y="877.90" width="7.40" height="43.50" fill="#dcfadb"/>
<rect x="804.18" y="884.40" width="7.40" height="37.00" fill="#dcfadb"/>
<rect x="812.10" y="890.00" width="7.40" height="31.40" fill="#dcfadb"/>
<rect x="820.02" y="897.60" width="7.40" height="23.80" fill="#dcfadb"/>
<rect x="827.94" y="902.70" width="7.40" height="18.70" fill="#dcfadb"/>
<rect x="835.86" y="901.80" width="7.40" height="19.60" fill="#dcfadb"/>
<rect x="843.78" y="901.10" width="7.40" height="20.30" fill="#dcfadb"/>
<rect x="851.70" y="909.20" width="7.40" height="12.20" fill="#dcfadb"/>
<rect x="859.62" y="910.80" width="7.40" height="10.60" fill="#dcfadb"/>
<rect x="867.54" y="906.40" width="7.40" height="15.00" fill="#dcfadb"/>
<rect x="875.46" y="912.70" width="7.40" height="8.70" fill="#dcfadb"/>
<rect x="883.38" y="918.00" width="7.40" height="3.40" fill="#dcfadb"/>
<rect x="891.30" y="916.90" width="7.40" height="4.50" fill="#dcfadb"/>
<rect x="899.22" y="916.20" width="7.40" height="5.20" fill="#dcfadb"/>
<rect x="907.14" y="918.00" width="7.40" height="3.40" fill="#dcfadb"/>
<rect x="915.06" y="918.80" width="7.40" height="2.60" fill="#dcfadb"/>
<rect x="922.98" y="918.40" width="7.40" height="3.00" fill="#dcfadb"/>
<rect x="930.90" y="917.80" width="7.40" height="3.60" fill="#dcfadb"/>
<rect x="938.82" y="918.30" width="7.40" height="3.10" fill="#dcfadb"/>
<rect x="946.74" y="917.80" width="7.40" height="3.60" fill="#dcfadb"/>
<rect x="954.66" y="918.80" width="7.40" height="2.60" fill="#dcfadb"/>
<rect x="588.52" y="880.00" width="3.12" height="42.30" fill="#b2f2af"/>
<rect x="596.44" y="880.00" width="3.12" height="42.30" fill="#b2f2af"/>
<rect x="604.36" y="852.60" width="3.12" height="69.70" fill="#b2f2af"/>
<rect x="612.28" y="845.70" width="3.12" height="76.60" fill="#b2f2af"/>
<rect x="620.20" y="796.30" width="3.12" height="126.00" fill="#b2f2af"/>
<rect x="628.12" y="796.30" width="3.12" height="126.00" fill="#b2f2af"/>
<rect x="636.04" y="785.80" width="3.12" height="136.50" fill="#b2f2af"/>
<rect x="643.96" y="758.20" width="3.12" height="164.10" fill="#b2f2af"/>
<rect x="651.88" y="766.10" width="3.12" height="156.20" fill="#b2f2af"/>
<rect x="659.80" y="766.10" width="3.12" height="156.20" fill="#b2f2af"/>
<rect x="667.72" y="754.50" width="3.12" height="167.80" fill="#b2f2af"/>
<rect x="675.64" y="763.30" width="3.12" height="159.00" fill="#b2f2af"/>
<rect x="683.56" y="790.00" width="3.12" height="132.30" fill="#b2f2af"/>
<rect x="691.48" y="794.00" width="3.12" height="128.30" fill="#b2f2af"/>
<rect x="699.40" y="794.00" width="3.12" height="128.30" fill="#b2f2af"/>
<rect x="707.32" y="817.80" width="3.12" height="104.50" fill="#b2f2af"/>
<rect x="715.24" y="827.60" width="3.12" height="94.70" fill="#b2f2af"/>
<rect x="723.16" y="827.60" width="3.12" height="94.70" fill="#b2f2af"/>
<rect x="731.08" y="842.90" width="3.12" height="79.40" fill="#b2f2af"/>
<rect x="739.00" y="845.00" width="3.12" height="77.30" fill="#b2f2af"/>
<rect x="746.92" y="845.00" width="3.12" height="77.30" fill="#b2f2af"/>
<rect x="754.84" y="870.00" width="3.12" height="52.30" fill="#b2f2af"/>
<rect x="762.76" y="870.00" width="3.12" height="52.30" fill="#b2f2af"/>
<rect x="770.68" y="867.00" width="3.12" height="55.30" fill="#b2f2af"/>
<rect x="778.60" y="884.60" width="3.12" height="37.70" fill="#b2f2af"/>
<rect x="786.52" y="884.60" width="3.12" height="37.70" fill="#b2f2af"/>
<rect x="794.44" y="879.30" width="3.12" height="43.00" fill="#b2f2af"/>
<rect x="802.36" y="885.80" width="3.12" height="36.50" fill="#b2f2af"/>
<rect x="810.28" y="891.40" width="3.12" height="30.90" fill="#b2f2af"/>
<rect x="818.20" y="899.00" width="3.12" height="23.30" fill="#b2f2af"/>
<rect x="826.12" y="904.10" width="3.12" height="18.20" fill="#b2f2af"/>
<rect x="834.04" y="904.10" width="3.12" height="18.20" fill="#b2f2af"/>
<rect x="841.96" y="903.20" width="3.12" height="19.10" fill="#b2f2af"/>
<rect x="849.88" y="910.60" width="3.12" height="11.70" fill="#b2f2af"/>
<rect x="857.80" y="912.20" width="3.12" height="10.10" fill="#b2f2af"/>
<rect x="865.72" y="912.20" width="3.12" height="10.10" fill="#b2f2af"/>
<rect x="873.64" y="914.10" width="3.12" height="8.20" fill="#b2f2af"/>
<rect x="881.56" y="919.40" width="3.12" height="2.90" fill="#b2f2af"/>
<rect x="889.48" y="919.40" width="3.12" height="2.90" fill="#b2f2af"/>
<rect x="897.40" y="918.30" width="3.12" height="4.00" fill="#b2f2af"/>
<rect x="905.32" y="919.40" width="3.12" height="2.90" fill="#b2f2af"/>
<rect x="913.24" y="920.20" width="3.12" height="2.10" fill="#b2f2af"/>
<rect x="921.16" y="920.20" width="3.12" height="2.10" fill="#b2f2af"/>
<rect x="929.08" y="919.80" width="3.12" height="2.50" fill="#b2f2af"/>
<rect x="937.00" y="919.70" width="3.12" height="2.60" fill="#b2f2af"/>
<rect x="944.92" y="919.70" width="3.12" height="2.60" fill="#b2f2af"/>
<rect x="952.84" y="920.20" width="3.12" height="2.10" fill="#b2f2af"/>
<rect x="583.52" y="764.40" width="5.20" height="157.90" fill="#4a984b"/>
<rect x="583.52" y="764.40" width="5.20" height="2.2" fill="#4f8f52"/>
<rect x="591.44" y="879.20" width="5.20" height="43.10" fill="#4a984b"/>
<rect x="591.44" y="879.20" width="5.20" height="2.2" fill="#4f8f52"/>
<rect x="599.36" y="851.80" width="5.20" height="70.50" fill="#4a984b"/>
<rect x="599.36" y="851.80" width="5.20" height="2.2" fill="#4f8f52"/>
<rect x="607.28" y="844.90" width="5.20" height="77.40" fill="#4a984b"/>
<rect x="607.28" y="844.90" width="5.20" height="2.2" fill="#4f8f52"/>
<rect x="615.20" y="794.30" width="5.20" height="128.00" fill="#4a984b"/>
<rect x="615.20" y="794.30" width="5.20" height="2.2" fill="#4f8f52"/>
<rect x="623.12" y="795.50" width="5.20" height="126.80" fill="#4a984b"/>
<rect x="623.12" y="795.50" width="5.20" height="2.2" fill="#4f8f52"/>
<rect x="631.04" y="785.00" width="5.20" height="137.30" fill="#4a984b"/>
<rect x="631.04" y="785.00" width="5.20" height="2.2" fill="#4f8f52"/>
<rect x="638.96" y="757.40" width="5.20" height="164.90" fill="#4a984b"/>
<rect x="638.96" y="757.40" width="5.20" height="2.2" fill="#4f8f52"/>
<rect x="646.88" y="744.70" width="5.20" height="177.60" fill="#4a984b"/>
<rect x="646.88" y="744.70" width="5.20" height="2.2" fill="#4f8f52"/>
<rect x="654.80" y="765.30" width="5.20" height="157.00" fill="#4a984b"/>
<rect x="654.80" y="765.30" width="5.20" height="2.2" fill="#4f8f52"/>
<rect x="662.72" y="749.80" width="5.20" height="172.50" fill="#4a984b"/>
<rect x="662.72" y="749.80" width="5.20" height="2.2" fill="#4f8f52"/>
<rect x="670.64" y="753.70" width="5.20" height="168.60" fill="#4a984b"/>
<rect x="670.64" y="753.70" width="5.20" height="2.2" fill="#4f8f52"/>
<rect x="678.56" y="762.50" width="5.20" height="159.80" fill="#4a984b"/>
<rect x="678.56" y="762.50" width="5.20" height="2.2" fill="#4f8f52"/>
<rect x="686.48" y="789.20" width="5.20" height="133.10" fill="#4a984b"/>
<rect x="686.48" y="789.20" width="5.20" height="2.2" fill="#4f8f52"/>
<rect x="694.40" y="793.20" width="5.20" height="129.10" fill="#4a984b"/>
<rect x="694.40" y="793.20" width="5.20" height="2.2" fill="#4f8f52"/>
<rect x="702.32" y="779.90" width="5.20" height="142.40" fill="#4a984b"/>
<rect x="702.32" y="779.90" width="5.20" height="2.2" fill="#4f8f52"/>
<rect x="710.24" y="817.00" width="5.20" height="105.30" fill="#4a984b"/>
<rect x="710.24" y="817.00" width="5.20" height="2.2" fill="#4f8f52"/>
<rect x="718.16" y="826.80" width="5.20" height="95.50" fill="#4a984b"/>
<rect x="718.16" y="826.80" width="5.20" height="2.2" fill="#4f8f52"/>
<rect x="726.08" y="819.40" width="5.20" height="102.90" fill="#4a984b"/>
<rect x="726.08" y="819.40" width="5.20" height="2.2" fill="#4f8f52"/>
<rect x="734.00" y="842.10" width="5.20" height="80.20" fill="#4a984b"/>
<rect x="734.00" y="842.10" width="5.20" height="2.2" fill="#4f8f52"/>
<rect x="741.92" y="844.20" width="5.20" height="78.10" fill="#4a984b"/>
<rect x="741.92" y="844.20" width="5.20" height="2.2" fill="#4f8f52"/>
<rect x="749.84" y="839.50" width="5.20" height="82.80" fill="#4a984b"/>
<rect x="749.84" y="839.50" width="5.20" height="2.2" fill="#4f8f52"/>
<rect x="757.76" y="869.20" width="5.20" height="53.10" fill="#4a984b"/>
<rect x="757.76" y="869.20" width="5.20" height="2.2" fill="#4f8f52"/>
<rect x="765.68" y="864.60" width="5.20" height="57.70" fill="#4a984b"/>
<rect x="765.68" y="864.60" width="5.20" height="2.2" fill="#4f8f52"/>
<rect x="773.60" y="866.20" width="5.20" height="56.10" fill="#4a984b"/>
<rect x="773.60" y="866.20" width="5.20" height="2.2" fill="#4f8f52"/>
<rect x="781.52" y="883.80" width="5.20" height="38.50" fill="#4a984b"/>
<rect x="781.52" y="883.80" width="5.20" height="2.2" fill="#4f8f52"/>
<rect x="789.44" y="868.10" width="5.20" height="54.20" fill="#4a984b"/>
<rect x="789.44" y="868.10" width="5.20" height="2.2" fill="#4f8f52"/>
<rect x="797.36" y="878.50" width="5.20" height="43.80" fill="#4a984b"/>
<rect x="797.36" y="878.50" width="5.20" height="2.2" fill="#4f8f52"/>
<rect x="805.28" y="885.00" width="5.20" height="37.30" fill="#4a984b"/>
<rect x="805.28" y="885.00" width="5.20" height="2.2" fill="#4f8f52"/>
<rect x="813.20" y="890.60" width="5.20" height="31.70" fill="#4a984b"/>
<rect x="813.20" y="890.60" width="5.20" height="2.2" fill="#4f8f52"/>
<rect x="821.12" y="898.20" width="5.20" height="24.10" fill="#4a984b"/>
<rect x="821.12" y="898.20" width="5.20" height="2.2" fill="#4f8f52"/>
<rect x="829.04" y="903.30" width="5.20" height="19.00" fill="#4a984b"/>
<rect x="829.04" y="903.30" width="5.20" height="2.2" fill="#4f8f52"/>
<rect x="836.96" y="902.40" width="5.20" height="19.90" fill="#4a984b"/>
<rect x="836.96" y="902.40" width="5.20" height="2.2" fill="#4f8f52"/>
<rect x="844.88" y="901.70" width="5.20" height="20.60" fill="#4a984b"/>
<rect x="844.88" y="901.70" width="5.20" height="2.2" fill="#4f8f52"/>
<rect x="852.80" y="909.80" width="5.20" height="12.50" fill="#4a984b"/>
<rect x="852.80" y="909.80" width="5.20" height="2.2" fill="#4f8f52"/>
<rect x="860.72" y="911.40" width="5.20" height="10.90" fill="#4a984b"/>
<rect x="860.72" y="911.40" width="5.20" height="2.2" fill="#4f8f52"/>
<rect x="868.64" y="907.00" width="5.20" height="15.30" fill="#4a984b"/>
<rect x="868.64" y="907.00" width="5.20" height="2.2" fill="#4f8f52"/>
<rect x="876.56" y="913.30" width="5.20" height="9.00" fill="#4a984b"/>
<rect x="876.56" y="913.30" width="5.20" height="2.2" fill="#4f8f52"/>
<rect x="884.48" y="918.60" width="5.20" height="3.70" fill="#4a984b"/>
<rect x="892.40" y="917.50" width="5.20" height="4.80" fill="#4a984b"/>
<rect x="900.32" y="916.80" width="5.20" height="5.50" fill="#4a984b"/>
<rect x="908.24" y="918.60" width="5.20" height="3.70" fill="#4a984b"/>
<rect x="916.16" y="919.40" width="5.20" height="2.90" fill="#4a984b"/>
<rect x="924.08" y="919.00" width="5.20" height="3.30" fill="#4a984b"/>
<rect x="932.00" y="918.40" width="5.20" height="3.90" fill="#4a984b"/>
<rect x="939.92" y="918.90" width="5.20" height="3.40" fill="#4a984b"/>
<rect x="947.84" y="918.40" width="5.20" height="3.90" fill="#4a984b"/>
<rect x="955.76" y="919.40" width="5.20" height="2.90" fill="#4a984b"/>
</g>
<g class="t">
<text class="tk" font-size="9.9" x="566.0" y="746.3" text-anchor="end"><tspan font-size="6.9" dy="0.8">1</tspan><tspan dy="-0.8"> 246</tspan></text>
<text class="tk" font-size="9.9" x="566.0" y="776.0" text-anchor="end">205</text>
<text class="tk" font-size="9.9" x="566.0" y="805.8" text-anchor="end">164</text>
<text class="tk" font-size="9.9" x="566.0" y="835.6" text-anchor="end">123</text>
<text class="tk" font-size="9.9" x="566.0" y="865.4" text-anchor="end">82</text>
<text class="tk" font-size="9.9" x="566.0" y="895.2" text-anchor="end">41</text>
<text class="tk" font-size="9.9" x="566.0" y="924.9" text-anchor="end">0</text>
<text class="tk" font-size="9.9" x="578.2" y="932.9" text-anchor="middle">0</text>
<text class="tk" font-size="9.9" x="657.4" y="932.9" text-anchor="middle">10</text>
<text class="tk" font-size="9.9" x="736.6" y="932.9" text-anchor="middle">20</text>
<text class="tk" font-size="9.9" x="815.8" y="932.9" text-anchor="middle">30</text>
<text class="tk" font-size="9.9" x="895.0" y="932.9" text-anchor="middle">40</text>
<text class="tk" font-size="9.9" x="974.2" y="932.9" text-anchor="middle">50</text>
<text class="yl" font-size="16.5" x="527.70" y="752.6" transform="scale(1.0 1)">К</text>
<text class="yl" font-size="14.0" x="471.16" y="765.8" transform="scale(1.12 1)">о</text>
<text class="yl" font-size="14.0" x="471.16" y="778.7" transform="scale(1.12 1)">л</text>
<text class="yl" font-size="14.0" x="471.16" y="791.5" transform="scale(1.12 1)">-</text>
<text class="yl" font-size="14.0" x="471.16" y="804.4" transform="scale(1.12 1)">в</text>
<text class="yl" font-size="14.0" x="471.16" y="818.1" transform="scale(1.12 1)">о</text>
<text class="yl" font-size="14.0" x="471.16" y="834.4" transform="scale(1.12 1)">к</text>
<text class="yl" font-size="14.0" x="471.16" y="847.3" transform="scale(1.12 1)">л</text>
<text class="yl" font-size="14.0" x="471.16" y="861.0" transform="scale(1.12 1)">е</text>
<text class="yl" font-size="14.0" x="471.16" y="874.7" transform="scale(1.12 1)">т</text>
<text class="yl" font-size="14.0" x="471.16" y="888.4" transform="scale(1.12 1)">о</text>
<text class="yl" font-size="14.0" x="471.16" y="901.3" transform="scale(1.12 1)">к</text>
<text class="xt" font-size="14.8" x="730.6" y="952.0" textLength="120.5" lengthAdjust="spacingAndGlyphs">Размер клеток, мкм</text>
</g>
<text class="cap c" x="684.6" y="1018.1" textLength="191.4" lengthAdjust="spacingAndGlyphs">Lilly (m<tspan class="sub" dy="2.5">клубня</tspan><tspan dy="-2.5"> – 82,7 г)</tspan></text>
<text class="tk t" font-size="6" x="544.5" y="69">1</text>
</svg>
</body></html>
